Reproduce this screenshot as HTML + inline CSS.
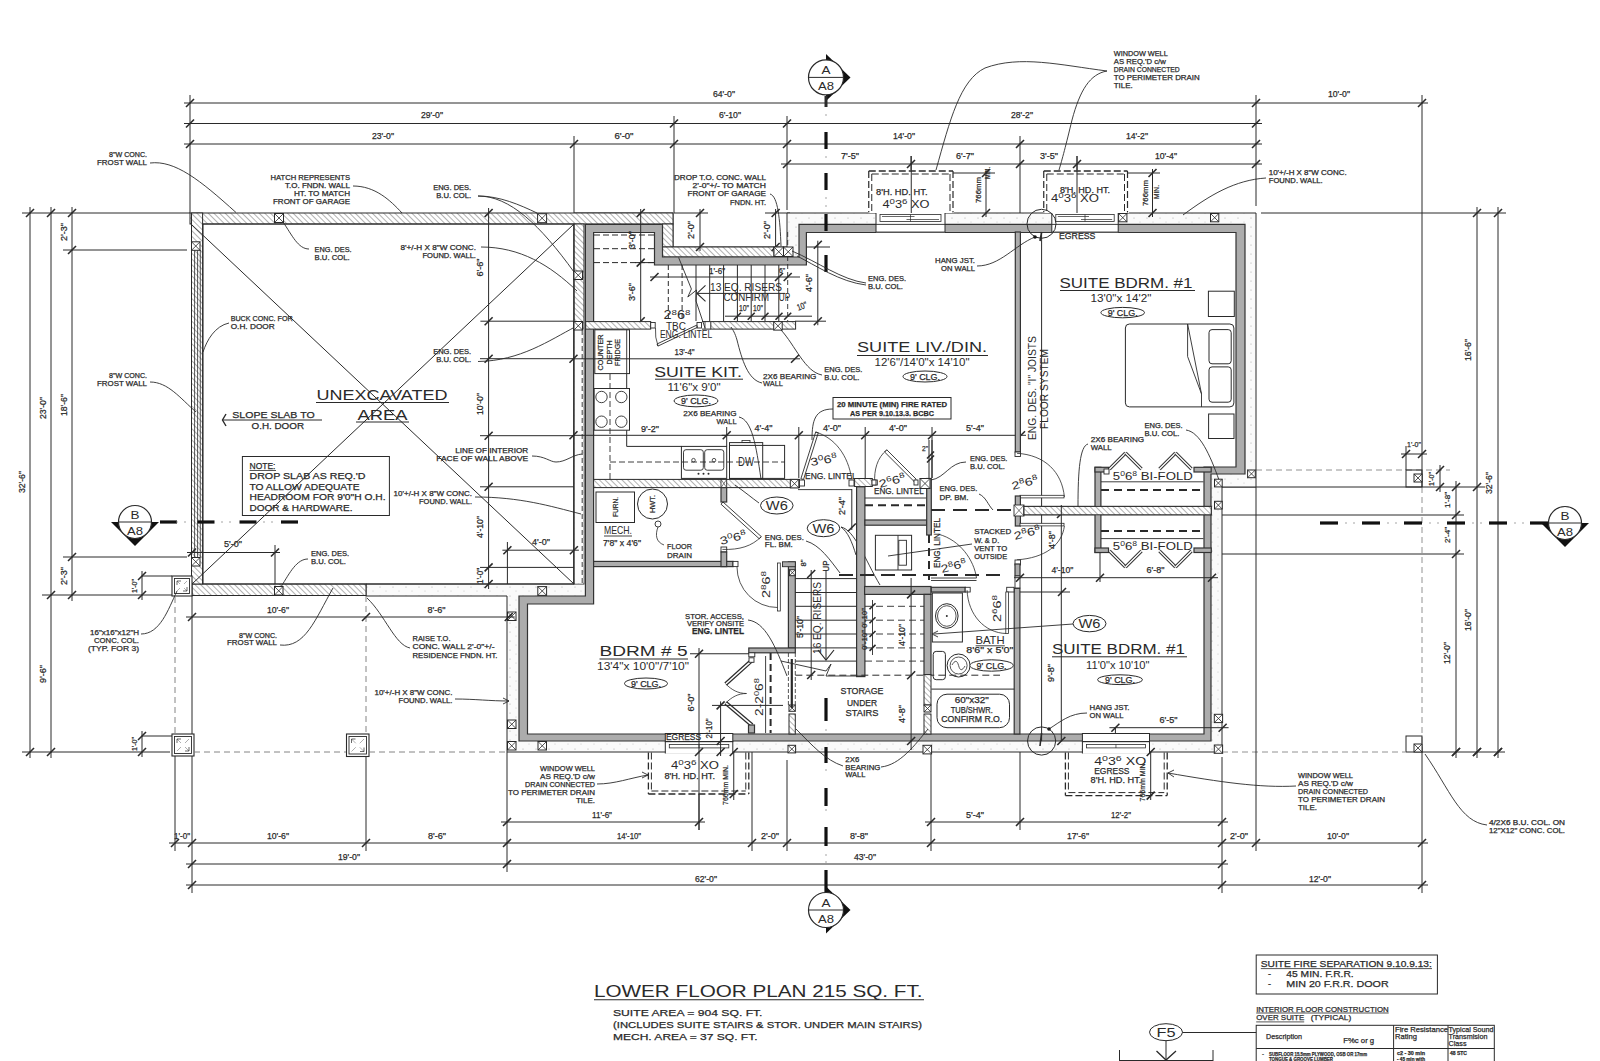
<!DOCTYPE html>
<html><head><meta charset="utf-8"><style>
html,body{margin:0;padding:0;background:#fff;}
svg{display:block;font-family:"Liberation Sans",sans-serif;}
</style></head><body>
<svg width="1600" height="1061" viewBox="0 0 1600 1061">
<defs>
<pattern id="h1" patternUnits="userSpaceOnUse" width="4" height="4" patternTransform="rotate(-45)"><rect width="4" height="4" fill="#fff"/><line x1="0" y1="0" x2="0" y2="4" stroke="#666" stroke-width="1"/></pattern>
<pattern id="cc" patternUnits="userSpaceOnUse" width="13" height="9"><rect width="13" height="9" fill="#fafafa"/><circle cx="3" cy="2" r="0.6" fill="#aaa"/><circle cx="9" cy="6" r="0.5" fill="#bbb"/></pattern>
<pattern id="xh" patternUnits="userSpaceOnUse" width="3" height="3"><rect width="3" height="3" fill="#fff"/><line x1="1.5" y1="0" x2="1.5" y2="3" stroke="#555" stroke-width="0.7"/></pattern>
</defs>
<rect width="1600" height="1061" fill="#fff"/>
<line x1="184" y1="103" x2="1428" y2="103" stroke="#2a2a2a" stroke-width="1.0" stroke-linecap="butt"/>
<line x1="186" y1="107" x2="194" y2="99" stroke="#2a2a2a" stroke-width="1.6" stroke-linecap="butt"/>
<line x1="1252" y1="107" x2="1260" y2="99" stroke="#2a2a2a" stroke-width="1.6" stroke-linecap="butt"/>
<line x1="1418" y1="107" x2="1426" y2="99" stroke="#2a2a2a" stroke-width="1.6" stroke-linecap="butt"/>
<text x="724" y="97" font-size="9" text-anchor="middle" textLength="22" lengthAdjust="spacingAndGlyphs" fill="#2a2a2a" stroke="#2a2a2a" stroke-width="0.25">64'-0"</text>
<text x="1339" y="97" font-size="9" text-anchor="middle" textLength="22" lengthAdjust="spacingAndGlyphs" fill="#2a2a2a" stroke="#2a2a2a" stroke-width="0.25">10'-0"</text>
<line x1="184" y1="123.5" x2="1262" y2="123.5" stroke="#2a2a2a" stroke-width="1.0" stroke-linecap="butt"/>
<line x1="186" y1="127.5" x2="194" y2="119.5" stroke="#2a2a2a" stroke-width="1.6" stroke-linecap="butt"/>
<line x1="670" y1="127.5" x2="678" y2="119.5" stroke="#2a2a2a" stroke-width="1.6" stroke-linecap="butt"/>
<line x1="783" y1="127.5" x2="791" y2="119.5" stroke="#2a2a2a" stroke-width="1.6" stroke-linecap="butt"/>
<line x1="1252" y1="127.5" x2="1260" y2="119.5" stroke="#2a2a2a" stroke-width="1.6" stroke-linecap="butt"/>
<text x="432" y="118" font-size="9" text-anchor="middle" textLength="22" lengthAdjust="spacingAndGlyphs" fill="#2a2a2a" stroke="#2a2a2a" stroke-width="0.25">29'-0"</text>
<text x="730" y="118" font-size="9" text-anchor="middle" textLength="22" lengthAdjust="spacingAndGlyphs" fill="#2a2a2a" stroke="#2a2a2a" stroke-width="0.25">6'-10"</text>
<text x="1022" y="118" font-size="9" text-anchor="middle" textLength="22" lengthAdjust="spacingAndGlyphs" fill="#2a2a2a" stroke="#2a2a2a" stroke-width="0.25">28'-2"</text>
<line x1="184" y1="144" x2="1262" y2="144" stroke="#2a2a2a" stroke-width="1.0" stroke-linecap="butt"/>
<line x1="186" y1="148" x2="194" y2="140" stroke="#2a2a2a" stroke-width="1.6" stroke-linecap="butt"/>
<line x1="570" y1="148" x2="578" y2="140" stroke="#2a2a2a" stroke-width="1.6" stroke-linecap="butt"/>
<line x1="670" y1="148" x2="678" y2="140" stroke="#2a2a2a" stroke-width="1.6" stroke-linecap="butt"/>
<line x1="783" y1="148" x2="791" y2="140" stroke="#2a2a2a" stroke-width="1.6" stroke-linecap="butt"/>
<line x1="1016" y1="148" x2="1024" y2="140" stroke="#2a2a2a" stroke-width="1.6" stroke-linecap="butt"/>
<line x1="1252" y1="148" x2="1260" y2="140" stroke="#2a2a2a" stroke-width="1.6" stroke-linecap="butt"/>
<text x="383" y="139" font-size="9" text-anchor="middle" textLength="22" lengthAdjust="spacingAndGlyphs" fill="#2a2a2a" stroke="#2a2a2a" stroke-width="0.25">23'-0"</text>
<text x="624" y="139" font-size="9" text-anchor="middle" textLength="19" lengthAdjust="spacingAndGlyphs" fill="#2a2a2a" stroke="#2a2a2a" stroke-width="0.25">6'-0"</text>
<text x="904" y="139" font-size="9" text-anchor="middle" textLength="22" lengthAdjust="spacingAndGlyphs" fill="#2a2a2a" stroke="#2a2a2a" stroke-width="0.25">14'-0"</text>
<text x="1137" y="139" font-size="9" text-anchor="middle" textLength="22" lengthAdjust="spacingAndGlyphs" fill="#2a2a2a" stroke="#2a2a2a" stroke-width="0.25">14'-2"</text>
<line x1="781" y1="164" x2="1262" y2="164" stroke="#2a2a2a" stroke-width="1.0" stroke-linecap="butt"/>
<line x1="783" y1="168" x2="791" y2="160" stroke="#2a2a2a" stroke-width="1.6" stroke-linecap="butt"/>
<line x1="907" y1="168" x2="915" y2="160" stroke="#2a2a2a" stroke-width="1.6" stroke-linecap="butt"/>
<line x1="1016" y1="168" x2="1024" y2="160" stroke="#2a2a2a" stroke-width="1.6" stroke-linecap="butt"/>
<line x1="1073" y1="168" x2="1081" y2="160" stroke="#2a2a2a" stroke-width="1.6" stroke-linecap="butt"/>
<line x1="1252" y1="168" x2="1260" y2="160" stroke="#2a2a2a" stroke-width="1.6" stroke-linecap="butt"/>
<text x="850" y="159" font-size="9" text-anchor="middle" textLength="18" lengthAdjust="spacingAndGlyphs" fill="#2a2a2a" stroke="#2a2a2a" stroke-width="0.25">7'-5"</text>
<text x="965" y="159" font-size="9" text-anchor="middle" textLength="18" lengthAdjust="spacingAndGlyphs" fill="#2a2a2a" stroke="#2a2a2a" stroke-width="0.25">6'-7"</text>
<text x="1049" y="159" font-size="9" text-anchor="middle" textLength="18" lengthAdjust="spacingAndGlyphs" fill="#2a2a2a" stroke="#2a2a2a" stroke-width="0.25">3'-5"</text>
<text x="1166" y="159" font-size="9" text-anchor="middle" textLength="22" lengthAdjust="spacingAndGlyphs" fill="#2a2a2a" stroke="#2a2a2a" stroke-width="0.25">10'-4"</text>
<line x1="190" y1="95" x2="190" y2="213" stroke="#2a2a2a" stroke-width="1.0" stroke-linecap="butt"/>
<line x1="574" y1="136" x2="574" y2="213" stroke="#2a2a2a" stroke-width="1.0" stroke-linecap="butt"/>
<line x1="674" y1="116" x2="674" y2="213" stroke="#2a2a2a" stroke-width="1.0" stroke-linecap="butt"/>
<line x1="787" y1="116" x2="787" y2="210" stroke="#2a2a2a" stroke-width="1.0" stroke-linecap="butt"/>
<line x1="1020" y1="136" x2="1020" y2="225" stroke="#2a2a2a" stroke-width="1.0" stroke-linecap="butt"/>
<line x1="911" y1="156" x2="911" y2="215" stroke="#2a2a2a" stroke-width="1.0" stroke-linecap="butt"/>
<line x1="1077" y1="156" x2="1077" y2="215" stroke="#2a2a2a" stroke-width="1.0" stroke-linecap="butt"/>
<line x1="1256" y1="95" x2="1256" y2="206" stroke="#2a2a2a" stroke-width="1.0" stroke-linecap="butt"/>
<line x1="1422" y1="95" x2="1422" y2="487" stroke="#2a2a2a" stroke-width="1.0" stroke-linecap="butt"/>
<line x1="22" y1="213" x2="190" y2="213" stroke="#2a2a2a" stroke-width="1.0" stroke-linecap="butt"/>
<line x1="30" y1="207" x2="30" y2="758" stroke="#2a2a2a" stroke-width="1.0" stroke-linecap="butt"/>
<line x1="26" y1="217" x2="34" y2="209" stroke="#2a2a2a" stroke-width="1.6" stroke-linecap="butt"/>
<line x1="26" y1="756" x2="34" y2="748" stroke="#2a2a2a" stroke-width="1.6" stroke-linecap="butt"/>
<line x1="51" y1="207" x2="51" y2="758" stroke="#2a2a2a" stroke-width="1.0" stroke-linecap="butt"/>
<line x1="47" y1="217" x2="55" y2="209" stroke="#2a2a2a" stroke-width="1.6" stroke-linecap="butt"/>
<line x1="47" y1="599" x2="55" y2="591" stroke="#2a2a2a" stroke-width="1.6" stroke-linecap="butt"/>
<line x1="47" y1="756" x2="55" y2="748" stroke="#2a2a2a" stroke-width="1.6" stroke-linecap="butt"/>
<line x1="72" y1="207" x2="72" y2="601" stroke="#2a2a2a" stroke-width="1.0" stroke-linecap="butt"/>
<line x1="68" y1="217" x2="76" y2="209" stroke="#2a2a2a" stroke-width="1.6" stroke-linecap="butt"/>
<line x1="68" y1="254" x2="76" y2="246" stroke="#2a2a2a" stroke-width="1.6" stroke-linecap="butt"/>
<line x1="68" y1="561" x2="76" y2="553" stroke="#2a2a2a" stroke-width="1.6" stroke-linecap="butt"/>
<line x1="68" y1="599" x2="76" y2="591" stroke="#2a2a2a" stroke-width="1.6" stroke-linecap="butt"/>
<line x1="63" y1="250" x2="187" y2="250" stroke="#2a2a2a" stroke-width="1.0" stroke-linecap="butt"/>
<line x1="63" y1="557" x2="187" y2="557" stroke="#2a2a2a" stroke-width="1.0" stroke-linecap="butt"/>
<line x1="42" y1="595" x2="172" y2="595" stroke="#2a2a2a" stroke-width="1.0" stroke-linecap="butt"/>
<line x1="22" y1="752" x2="170" y2="752" stroke="#2a2a2a" stroke-width="1.0" stroke-linecap="butt"/>
<text x="25" y="482" font-size="9" text-anchor="middle" textLength="22" lengthAdjust="spacingAndGlyphs" transform="rotate(-90 25 482)" fill="#2a2a2a" stroke="#2a2a2a" stroke-width="0.25">32'-6"</text>
<text x="46" y="408" font-size="9" text-anchor="middle" textLength="22" lengthAdjust="spacingAndGlyphs" transform="rotate(-90 46 408)" fill="#2a2a2a" stroke="#2a2a2a" stroke-width="0.25">23'-0"</text>
<text x="46" y="674" font-size="9" text-anchor="middle" textLength="18" lengthAdjust="spacingAndGlyphs" transform="rotate(-90 46 674)" fill="#2a2a2a" stroke="#2a2a2a" stroke-width="0.25">9'-6"</text>
<text x="67" y="232" font-size="9" text-anchor="middle" textLength="18" lengthAdjust="spacingAndGlyphs" transform="rotate(-90 67 232)" fill="#2a2a2a" stroke="#2a2a2a" stroke-width="0.25">2'-3"</text>
<text x="67" y="405" font-size="9" text-anchor="middle" textLength="22" lengthAdjust="spacingAndGlyphs" transform="rotate(-90 67 405)" fill="#2a2a2a" stroke="#2a2a2a" stroke-width="0.25">18'-6"</text>
<text x="67" y="576" font-size="9" text-anchor="middle" textLength="18" lengthAdjust="spacingAndGlyphs" transform="rotate(-90 67 576)" fill="#2a2a2a" stroke="#2a2a2a" stroke-width="0.25">2'-3"</text>
<line x1="142" y1="571" x2="142" y2="600" stroke="#2a2a2a" stroke-width="1.0" stroke-linecap="butt"/>
<line x1="138" y1="580" x2="146" y2="572" stroke="#2a2a2a" stroke-width="1.6" stroke-linecap="butt"/>
<line x1="138" y1="599" x2="146" y2="591" stroke="#2a2a2a" stroke-width="1.6" stroke-linecap="butt"/>
<line x1="142" y1="576" x2="172" y2="576" stroke="#2a2a2a" stroke-width="1.0" stroke-linecap="butt"/>
<line x1="142" y1="731" x2="142" y2="757" stroke="#2a2a2a" stroke-width="1.0" stroke-linecap="butt"/>
<line x1="138" y1="740" x2="146" y2="732" stroke="#2a2a2a" stroke-width="1.6" stroke-linecap="butt"/>
<line x1="138" y1="756" x2="146" y2="748" stroke="#2a2a2a" stroke-width="1.6" stroke-linecap="butt"/>
<line x1="142" y1="736" x2="172" y2="736" stroke="#2a2a2a" stroke-width="1.0" stroke-linecap="butt"/>
<text x="137" y="586" font-size="8" text-anchor="middle" textLength="14" lengthAdjust="spacingAndGlyphs" transform="rotate(-90 137 586)" fill="#2a2a2a" stroke="#2a2a2a" stroke-width="0.25">1'-0"</text>
<text x="137" y="744" font-size="8" text-anchor="middle" textLength="14" lengthAdjust="spacingAndGlyphs" transform="rotate(-90 137 744)" fill="#2a2a2a" stroke="#2a2a2a" stroke-width="0.25">1'-0"</text>
<line x1="1261" y1="213" x2="1506" y2="213" stroke="#2a2a2a" stroke-width="1.0" stroke-linecap="butt"/>
<line x1="1477" y1="207" x2="1477" y2="758" stroke="#2a2a2a" stroke-width="1.0" stroke-linecap="butt"/>
<line x1="1473" y1="217" x2="1481" y2="209" stroke="#2a2a2a" stroke-width="1.6" stroke-linecap="butt"/>
<line x1="1473" y1="491" x2="1481" y2="483" stroke="#2a2a2a" stroke-width="1.6" stroke-linecap="butt"/>
<line x1="1473" y1="756" x2="1481" y2="748" stroke="#2a2a2a" stroke-width="1.6" stroke-linecap="butt"/>
<line x1="1498" y1="207" x2="1498" y2="758" stroke="#2a2a2a" stroke-width="1.0" stroke-linecap="butt"/>
<line x1="1494" y1="217" x2="1502" y2="209" stroke="#2a2a2a" stroke-width="1.6" stroke-linecap="butt"/>
<line x1="1494" y1="756" x2="1502" y2="748" stroke="#2a2a2a" stroke-width="1.6" stroke-linecap="butt"/>
<line x1="1456" y1="481" x2="1456" y2="758" stroke="#2a2a2a" stroke-width="1.0" stroke-linecap="butt"/>
<line x1="1452" y1="491" x2="1460" y2="483" stroke="#2a2a2a" stroke-width="1.6" stroke-linecap="butt"/>
<line x1="1452" y1="519" x2="1460" y2="511" stroke="#2a2a2a" stroke-width="1.6" stroke-linecap="butt"/>
<line x1="1452" y1="558" x2="1460" y2="550" stroke="#2a2a2a" stroke-width="1.6" stroke-linecap="butt"/>
<line x1="1452" y1="756" x2="1460" y2="748" stroke="#2a2a2a" stroke-width="1.6" stroke-linecap="butt"/>
<text x="1471" y="350" font-size="9" text-anchor="middle" textLength="22" lengthAdjust="spacingAndGlyphs" transform="rotate(-90 1471 350)" fill="#2a2a2a" stroke="#2a2a2a" stroke-width="0.25">16'-6"</text>
<text x="1471" y="620" font-size="9" text-anchor="middle" textLength="22" lengthAdjust="spacingAndGlyphs" transform="rotate(-90 1471 620)" fill="#2a2a2a" stroke="#2a2a2a" stroke-width="0.25">16'-0"</text>
<text x="1492" y="483" font-size="9" text-anchor="middle" textLength="22" lengthAdjust="spacingAndGlyphs" transform="rotate(-90 1492 483)" fill="#2a2a2a" stroke="#2a2a2a" stroke-width="0.25">32'-6"</text>
<text x="1450" y="500" font-size="8" text-anchor="middle" textLength="16" lengthAdjust="spacingAndGlyphs" transform="rotate(-90 1450 500)" fill="#2a2a2a" stroke="#2a2a2a" stroke-width="0.25">1'-8"</text>
<text x="1450" y="535" font-size="8" text-anchor="middle" textLength="16" lengthAdjust="spacingAndGlyphs" transform="rotate(-90 1450 535)" fill="#2a2a2a" stroke="#2a2a2a" stroke-width="0.25">2'-4"</text>
<text x="1450" y="653" font-size="9" text-anchor="middle" textLength="22" lengthAdjust="spacingAndGlyphs" transform="rotate(-90 1450 653)" fill="#2a2a2a" stroke="#2a2a2a" stroke-width="0.25">12'-0"</text>
<line x1="1222" y1="487" x2="1485" y2="487" stroke="#2a2a2a" stroke-width="1.0" stroke-linecap="butt"/>
<line x1="1217" y1="515" x2="1464" y2="515" stroke="#2a2a2a" stroke-width="1.0" stroke-linecap="butt"/>
<line x1="1208" y1="554" x2="1464" y2="554" stroke="#2a2a2a" stroke-width="1.0" stroke-linecap="butt"/>
<line x1="1256" y1="470" x2="1450" y2="470" stroke="#777" stroke-width="0.8" stroke-dasharray="6,4" stroke-linecap="butt"/>
<line x1="1422" y1="487" x2="1422" y2="752" stroke="#777" stroke-width="0.8" stroke-dasharray="6,4" stroke-linecap="butt"/>
<line x1="1401" y1="454" x2="1427" y2="454" stroke="#2a2a2a" stroke-width="1.0" stroke-linecap="butt"/>
<line x1="1402" y1="458" x2="1410" y2="450" stroke="#2a2a2a" stroke-width="1.6" stroke-linecap="butt"/>
<line x1="1418" y1="458" x2="1426" y2="450" stroke="#2a2a2a" stroke-width="1.6" stroke-linecap="butt"/>
<line x1="1406" y1="446" x2="1406" y2="470" stroke="#2a2a2a" stroke-width="1.0" stroke-linecap="butt"/>
<text x="1414" y="447" font-size="8" text-anchor="middle" textLength="14" lengthAdjust="spacingAndGlyphs" fill="#2a2a2a" stroke="#2a2a2a" stroke-width="0.25">1'-0"</text>
<line x1="1440" y1="465" x2="1440" y2="492" stroke="#2a2a2a" stroke-width="1.0" stroke-linecap="butt"/>
<line x1="1436" y1="474" x2="1444" y2="466" stroke="#2a2a2a" stroke-width="1.6" stroke-linecap="butt"/>
<line x1="1436" y1="491" x2="1444" y2="483" stroke="#2a2a2a" stroke-width="1.6" stroke-linecap="butt"/>
<text x="1434" y="479" font-size="8" text-anchor="middle" textLength="14" lengthAdjust="spacingAndGlyphs" transform="rotate(-90 1434 479)" fill="#2a2a2a" stroke="#2a2a2a" stroke-width="0.25">1'-0"</text>
<rect x="1406" y="470" width="16" height="17" fill="none" stroke="#2a2a2a" stroke-width="1"/>
<rect x="1414" y="474" width="8" height="8" fill="#fff" stroke="#2a2a2a" stroke-width="1.0"/>
<line x1="1414" y1="474" x2="1422" y2="482" stroke="#2a2a2a" stroke-width="0.8" stroke-linecap="butt"/>
<line x1="1422" y1="474" x2="1414" y2="482" stroke="#2a2a2a" stroke-width="0.8" stroke-linecap="butt"/>
<rect x="1406" y="736" width="16" height="16" fill="none" stroke="#2a2a2a" stroke-width="1"/>
<rect x="1414" y="744" width="8" height="8" fill="#fff" stroke="#2a2a2a" stroke-width="1.0"/>
<line x1="1414" y1="744" x2="1422" y2="752" stroke="#2a2a2a" stroke-width="0.8" stroke-linecap="butt"/>
<line x1="1422" y1="744" x2="1414" y2="752" stroke="#2a2a2a" stroke-width="0.8" stroke-linecap="butt"/>
<line x1="1422" y1="752" x2="1505" y2="752" stroke="#2a2a2a" stroke-width="1.0" stroke-linecap="butt"/>
<line x1="1452" y1="756" x2="1460" y2="748" stroke="#2a2a2a" stroke-width="1.6" stroke-linecap="butt"/>
<line x1="1473" y1="756" x2="1481" y2="748" stroke="#2a2a2a" stroke-width="1.6" stroke-linecap="butt"/>
<line x1="1494" y1="756" x2="1502" y2="748" stroke="#2a2a2a" stroke-width="1.6" stroke-linecap="butt"/>
<line x1="1222" y1="752" x2="1405" y2="752" stroke="#777" stroke-width="0.8" stroke-dasharray="6,4" stroke-linecap="butt"/>
<line x1="501" y1="822" x2="705" y2="822" stroke="#2a2a2a" stroke-width="1.0" stroke-linecap="butt"/>
<line x1="503" y1="826" x2="511" y2="818" stroke="#2a2a2a" stroke-width="1.6" stroke-linecap="butt"/>
<line x1="695" y1="826" x2="703" y2="818" stroke="#2a2a2a" stroke-width="1.6" stroke-linecap="butt"/>
<line x1="925" y1="822" x2="1228" y2="822" stroke="#2a2a2a" stroke-width="1.0" stroke-linecap="butt"/>
<line x1="927" y1="826" x2="935" y2="818" stroke="#2a2a2a" stroke-width="1.6" stroke-linecap="butt"/>
<line x1="1016" y1="826" x2="1024" y2="818" stroke="#2a2a2a" stroke-width="1.6" stroke-linecap="butt"/>
<line x1="1218" y1="826" x2="1226" y2="818" stroke="#2a2a2a" stroke-width="1.6" stroke-linecap="butt"/>
<text x="602" y="817.5" font-size="9" text-anchor="middle" textLength="20" lengthAdjust="spacingAndGlyphs" fill="#2a2a2a" stroke="#2a2a2a" stroke-width="0.25">11'-6"</text>
<text x="975" y="817.5" font-size="9" text-anchor="middle" textLength="18" lengthAdjust="spacingAndGlyphs" fill="#2a2a2a" stroke="#2a2a2a" stroke-width="0.25">5'-4"</text>
<text x="1121" y="817.5" font-size="9" text-anchor="middle" textLength="20" lengthAdjust="spacingAndGlyphs" fill="#2a2a2a" stroke="#2a2a2a" stroke-width="0.25">12'-2"</text>
<line x1="169" y1="843" x2="1428" y2="843" stroke="#2a2a2a" stroke-width="1.0" stroke-linecap="butt"/>
<line x1="171" y1="847" x2="179" y2="839" stroke="#2a2a2a" stroke-width="1.6" stroke-linecap="butt"/>
<line x1="188" y1="847" x2="196" y2="839" stroke="#2a2a2a" stroke-width="1.6" stroke-linecap="butt"/>
<line x1="362" y1="847" x2="370" y2="839" stroke="#2a2a2a" stroke-width="1.6" stroke-linecap="butt"/>
<line x1="503" y1="847" x2="511" y2="839" stroke="#2a2a2a" stroke-width="1.6" stroke-linecap="butt"/>
<line x1="748" y1="847" x2="756" y2="839" stroke="#2a2a2a" stroke-width="1.6" stroke-linecap="butt"/>
<line x1="783" y1="847" x2="791" y2="839" stroke="#2a2a2a" stroke-width="1.6" stroke-linecap="butt"/>
<line x1="927" y1="847" x2="935" y2="839" stroke="#2a2a2a" stroke-width="1.6" stroke-linecap="butt"/>
<line x1="1218" y1="847" x2="1226" y2="839" stroke="#2a2a2a" stroke-width="1.6" stroke-linecap="butt"/>
<line x1="1252" y1="847" x2="1260" y2="839" stroke="#2a2a2a" stroke-width="1.6" stroke-linecap="butt"/>
<line x1="1418" y1="847" x2="1426" y2="839" stroke="#2a2a2a" stroke-width="1.6" stroke-linecap="butt"/>
<text x="182" y="838.5" font-size="9" text-anchor="middle" textLength="16" lengthAdjust="spacingAndGlyphs" fill="#2a2a2a" stroke="#2a2a2a" stroke-width="0.25">1'-0"</text>
<text x="278" y="838.5" font-size="9" text-anchor="middle" textLength="22" lengthAdjust="spacingAndGlyphs" fill="#2a2a2a" stroke="#2a2a2a" stroke-width="0.25">10'-6"</text>
<text x="437" y="838.5" font-size="9" text-anchor="middle" textLength="18" lengthAdjust="spacingAndGlyphs" fill="#2a2a2a" stroke="#2a2a2a" stroke-width="0.25">8'-6"</text>
<text x="629" y="838.5" font-size="9" text-anchor="middle" textLength="24" lengthAdjust="spacingAndGlyphs" fill="#2a2a2a" stroke="#2a2a2a" stroke-width="0.25">14'-10"</text>
<text x="770" y="838.5" font-size="9" text-anchor="middle" textLength="18" lengthAdjust="spacingAndGlyphs" fill="#2a2a2a" stroke="#2a2a2a" stroke-width="0.25">2'-0"</text>
<text x="859" y="838.5" font-size="9" text-anchor="middle" textLength="18" lengthAdjust="spacingAndGlyphs" fill="#2a2a2a" stroke="#2a2a2a" stroke-width="0.25">8'-8"</text>
<text x="1078" y="838.5" font-size="9" text-anchor="middle" textLength="22" lengthAdjust="spacingAndGlyphs" fill="#2a2a2a" stroke="#2a2a2a" stroke-width="0.25">17'-6"</text>
<text x="1239" y="838.5" font-size="9" text-anchor="middle" textLength="18" lengthAdjust="spacingAndGlyphs" fill="#2a2a2a" stroke="#2a2a2a" stroke-width="0.25">2'-0"</text>
<text x="1338" y="838.5" font-size="9" text-anchor="middle" textLength="22" lengthAdjust="spacingAndGlyphs" fill="#2a2a2a" stroke="#2a2a2a" stroke-width="0.25">10'-0"</text>
<line x1="186" y1="864" x2="1228" y2="864" stroke="#2a2a2a" stroke-width="1.0" stroke-linecap="butt"/>
<line x1="188" y1="868" x2="196" y2="860" stroke="#2a2a2a" stroke-width="1.6" stroke-linecap="butt"/>
<line x1="503" y1="868" x2="511" y2="860" stroke="#2a2a2a" stroke-width="1.6" stroke-linecap="butt"/>
<line x1="1218" y1="868" x2="1226" y2="860" stroke="#2a2a2a" stroke-width="1.6" stroke-linecap="butt"/>
<text x="349" y="859.8" font-size="9" text-anchor="middle" textLength="22" lengthAdjust="spacingAndGlyphs" fill="#2a2a2a" stroke="#2a2a2a" stroke-width="0.25">19'-0"</text>
<text x="865" y="859.8" font-size="9" text-anchor="middle" textLength="22" lengthAdjust="spacingAndGlyphs" fill="#2a2a2a" stroke="#2a2a2a" stroke-width="0.25">43'-0"</text>
<line x1="186" y1="885" x2="1428" y2="885" stroke="#2a2a2a" stroke-width="1.0" stroke-linecap="butt"/>
<line x1="188" y1="889" x2="196" y2="881" stroke="#2a2a2a" stroke-width="1.6" stroke-linecap="butt"/>
<line x1="1218" y1="889" x2="1226" y2="881" stroke="#2a2a2a" stroke-width="1.6" stroke-linecap="butt"/>
<line x1="1418" y1="889" x2="1426" y2="881" stroke="#2a2a2a" stroke-width="1.6" stroke-linecap="butt"/>
<text x="706" y="881.5" font-size="9" text-anchor="middle" textLength="22" lengthAdjust="spacingAndGlyphs" fill="#2a2a2a" stroke="#2a2a2a" stroke-width="0.25">62'-0"</text>
<text x="1320" y="881.5" font-size="9" text-anchor="middle" textLength="22" lengthAdjust="spacingAndGlyphs" fill="#2a2a2a" stroke="#2a2a2a" stroke-width="0.25">12'-0"</text>
<line x1="175" y1="752" x2="175" y2="851" stroke="#2a2a2a" stroke-width="1.0" stroke-linecap="butt"/>
<line x1="192" y1="595" x2="192" y2="893" stroke="#2a2a2a" stroke-width="1.0" stroke-linecap="butt"/>
<line x1="366" y1="756" x2="366" y2="851" stroke="#2a2a2a" stroke-width="1.0" stroke-linecap="butt"/>
<line x1="507" y1="752" x2="507" y2="872" stroke="#2a2a2a" stroke-width="1.0" stroke-linecap="butt"/>
<line x1="699" y1="648" x2="699" y2="830" stroke="#2a2a2a" stroke-width="1.0" stroke-linecap="butt"/>
<line x1="752" y1="741" x2="752" y2="851" stroke="#2a2a2a" stroke-width="1.0" stroke-linecap="butt"/>
<line x1="787" y1="760" x2="787" y2="851" stroke="#2a2a2a" stroke-width="1.0" stroke-linecap="butt"/>
<line x1="931" y1="741" x2="931" y2="851" stroke="#2a2a2a" stroke-width="1.0" stroke-linecap="butt"/>
<line x1="1020" y1="741" x2="1020" y2="830" stroke="#2a2a2a" stroke-width="1.0" stroke-linecap="butt"/>
<line x1="1222" y1="757" x2="1222" y2="893" stroke="#2a2a2a" stroke-width="1.0" stroke-linecap="butt"/>
<line x1="1256" y1="487" x2="1256" y2="851" stroke="#2a2a2a" stroke-width="1.0" stroke-linecap="butt"/>
<line x1="1422" y1="752" x2="1422" y2="893" stroke="#2a2a2a" stroke-width="1.0" stroke-linecap="butt"/>
<line x1="674" y1="213" x2="708" y2="213" stroke="#2a2a2a" stroke-width="1.0" stroke-linecap="butt"/>
<line x1="765" y1="213" x2="790" y2="213" stroke="#2a2a2a" stroke-width="1.0" stroke-linecap="butt"/>
<polygon points="787,213 1256,213 1256,487 1222,487 1222,752 507,752 507,596 366,596 366,584 574,584 574,213 673,213 673,247 787,247" fill="url(#cc)" stroke="#2a2a2a" stroke-width="1.0"/>
<rect x="190" y="213" width="483" height="11" fill="url(#h1)" stroke="#2a2a2a" stroke-width="1"/>
<rect x="662.5" y="224" width="10.5" height="23" fill="url(#h1)" stroke="#2a2a2a" stroke-width="1"/>
<rect x="662.5" y="247" width="111.5" height="10" fill="url(#h1)" stroke="#2a2a2a" stroke-width="1"/>
<rect x="574" y="224" width="10" height="360" fill="url(#h1)" stroke="#2a2a2a" stroke-width="1"/>
<rect x="192" y="584" width="174" height="11.5" fill="url(#h1)" stroke="#2a2a2a" stroke-width="1"/>
<rect x="191.5" y="213" width="11.099999999999994" height="371" fill="url(#h1)" stroke="#2a2a2a" stroke-width="1"/>
<line x1="194.6" y1="250" x2="194.6" y2="557.5" stroke="#2a2a2a" stroke-width="0.8" stroke-linecap="butt"/>
<line x1="197.6" y1="250" x2="197.6" y2="557.5" stroke="#2a2a2a" stroke-width="0.8" stroke-linecap="butt"/>
<line x1="200.3" y1="250" x2="200.3" y2="557.5" stroke="#2a2a2a" stroke-width="0.8" stroke-linecap="butt"/>
<rect x="191.5" y="557.5" width="8.5" height="8.5" fill="#fff" stroke="#2a2a2a" stroke-width="1.0"/>
<line x1="191.5" y1="557.5" x2="200.0" y2="566.0" stroke="#2a2a2a" stroke-width="0.8" stroke-linecap="butt"/>
<line x1="200.0" y1="557.5" x2="191.5" y2="566.0" stroke="#2a2a2a" stroke-width="0.8" stroke-linecap="butt"/>
<polygon points="585.4,224.4 662.5,224.4 662.5,257 799,257 799,224.4 1245,224.4 1245,474 1211,474 1211,741 519,741 519,596 585.4,596" fill="#acacac" stroke="#333" stroke-width="1.2"/>
<polygon points="593.6,232.5 654.5,232.5 654.5,265 806.4,265 806.4,232.5 1236,232.5 1236,467 1204,467 1204,734 527.5,734 527.5,604 593.6,604" fill="#fff" stroke="#333" stroke-width="1.2"/>
<rect x="203" y="224" width="371" height="360" fill="none" stroke="#2a2a2a" stroke-width="1"/>
<line x1="192" y1="225" x2="574" y2="584" stroke="#2a2a2a" stroke-width="1.0" stroke-linecap="butt"/>
<line x1="574" y1="224" x2="192" y2="584" stroke="#2a2a2a" stroke-width="1.0" stroke-linecap="butt"/>
<rect x="274.5" y="213.5" width="9" height="9" fill="#fff" stroke="#2a2a2a" stroke-width="1.0"/>
<line x1="274.5" y1="213.5" x2="283.5" y2="222.5" stroke="#2a2a2a" stroke-width="0.8" stroke-linecap="butt"/>
<line x1="283.5" y1="213.5" x2="274.5" y2="222.5" stroke="#2a2a2a" stroke-width="0.8" stroke-linecap="butt"/>
<rect x="191.5" y="241.8" width="8.5" height="8.5" fill="#fff" stroke="#2a2a2a" stroke-width="1.0"/>
<line x1="191.5" y1="241.8" x2="200.0" y2="250.3" stroke="#2a2a2a" stroke-width="0.8" stroke-linecap="butt"/>
<line x1="200.0" y1="241.8" x2="191.5" y2="250.3" stroke="#2a2a2a" stroke-width="0.8" stroke-linecap="butt"/>
<rect x="537.6" y="213.7" width="9" height="9" fill="#fff" stroke="#2a2a2a" stroke-width="1.0"/>
<line x1="537.6" y1="213.7" x2="546.6" y2="222.7" stroke="#2a2a2a" stroke-width="0.8" stroke-linecap="butt"/>
<line x1="546.6" y1="213.7" x2="537.6" y2="222.7" stroke="#2a2a2a" stroke-width="0.8" stroke-linecap="butt"/>
<rect x="574" y="271" width="8.5" height="8.5" fill="#fff" stroke="#2a2a2a" stroke-width="1.0"/>
<line x1="574" y1="271" x2="582.5" y2="279.5" stroke="#2a2a2a" stroke-width="0.8" stroke-linecap="butt"/>
<line x1="582.5" y1="271" x2="574" y2="279.5" stroke="#2a2a2a" stroke-width="0.8" stroke-linecap="butt"/>
<rect x="574" y="321.5" width="8.5" height="8.5" fill="#fff" stroke="#2a2a2a" stroke-width="1.0"/>
<line x1="574" y1="321.5" x2="582.5" y2="330.0" stroke="#2a2a2a" stroke-width="0.8" stroke-linecap="butt"/>
<line x1="582.5" y1="321.5" x2="574" y2="330.0" stroke="#2a2a2a" stroke-width="0.8" stroke-linecap="butt"/>
<rect x="537.8" y="586.6" width="8.8" height="8.8" fill="#fff" stroke="#2a2a2a" stroke-width="1.0"/>
<line x1="537.8" y1="586.6" x2="546.5999999999999" y2="595.4" stroke="#2a2a2a" stroke-width="0.8" stroke-linecap="butt"/>
<line x1="546.5999999999999" y1="586.6" x2="537.8" y2="595.4" stroke="#2a2a2a" stroke-width="0.8" stroke-linecap="butt"/>
<rect x="574.5" y="329.5" width="9" height="254" fill="#fbfbfb"/>
<line x1="574" y1="329" x2="574" y2="584" stroke="#2a2a2a" stroke-width="1.0" stroke-linecap="butt"/>
<line x1="582.2" y1="330" x2="582.2" y2="584" stroke="#2a2a2a" stroke-width="0.9" stroke-dasharray="5,3" stroke-linecap="butt"/>
<text x="147" y="157.0" font-size="7.2" text-anchor="end" textLength="38" lengthAdjust="spacingAndGlyphs" fill="#2a2a2a" stroke="#2a2a2a" stroke-width="0.25">8"W CONC.</text>
<text x="147" y="164.9" font-size="7.2" text-anchor="end" textLength="50" lengthAdjust="spacingAndGlyphs" fill="#2a2a2a" stroke="#2a2a2a" stroke-width="0.25">FROST WALL</text>
<path d="M150,163 C175,160 200,180 236,212.5" fill="none" stroke="#2a2a2a" stroke-width="0.9"/>
<text x="350" y="180" font-size="7.2" text-anchor="end" textLength="79.5" lengthAdjust="spacingAndGlyphs" fill="#2a2a2a" stroke="#2a2a2a" stroke-width="0.25">HATCH REPRESENTS</text>
<text x="350" y="188" font-size="7.2" text-anchor="end" textLength="65" lengthAdjust="spacingAndGlyphs" fill="#2a2a2a" stroke="#2a2a2a" stroke-width="0.25">T.O. FNDN. WALL</text>
<text x="350" y="196" font-size="7.2" text-anchor="end" textLength="56" lengthAdjust="spacingAndGlyphs" fill="#2a2a2a" stroke="#2a2a2a" stroke-width="0.25">HT. TO MATCH</text>
<text x="350" y="204" font-size="7.2" text-anchor="end" textLength="77" lengthAdjust="spacingAndGlyphs" fill="#2a2a2a" stroke="#2a2a2a" stroke-width="0.25">FRONT OF GARAGE</text>
<path d="M353,186 C375,186 390,200 402,213" fill="none" stroke="#2a2a2a" stroke-width="0.9"/>
<text x="314.6" y="251.5" font-size="7.2" text-anchor="start" textLength="37" lengthAdjust="spacingAndGlyphs" fill="#2a2a2a" stroke="#2a2a2a" stroke-width="0.25">ENG. DES.</text>
<text x="314.6" y="260.0" font-size="7.2" text-anchor="start" textLength="35" lengthAdjust="spacingAndGlyphs" fill="#2a2a2a" stroke="#2a2a2a" stroke-width="0.25">B.U. COL.</text>
<path d="M283,222 C292,235 298,249 309,249" fill="none" stroke="#2a2a2a" stroke-width="0.9"/>
<text x="230.7" y="320.5" font-size="7.2" text-anchor="start" textLength="62" lengthAdjust="spacingAndGlyphs" fill="#2a2a2a" stroke="#2a2a2a" stroke-width="0.25">BUCK CONC. FOR</text>
<text x="230.7" y="328.5" font-size="7.2" text-anchor="start" textLength="44" lengthAdjust="spacingAndGlyphs" fill="#2a2a2a" stroke="#2a2a2a" stroke-width="0.25">O.H. DOOR</text>
<line x1="234" y1="328" x2="234" y2="328" stroke="#2a2a2a" stroke-width="1.0" stroke-linecap="butt"/>
<path d="M229,323 C215,326 207,340 203,352" fill="none" stroke="#2a2a2a" stroke-width="0.9"/>
<text x="147" y="378.4" font-size="7.2" text-anchor="end" textLength="38" lengthAdjust="spacingAndGlyphs" fill="#2a2a2a" stroke="#2a2a2a" stroke-width="0.25">8"W CONC.</text>
<text x="147" y="386.29999999999995" font-size="7.2" text-anchor="end" textLength="50" lengthAdjust="spacingAndGlyphs" fill="#2a2a2a" stroke="#2a2a2a" stroke-width="0.25">FROST WALL</text>
<path d="M150,382 C168,382 180,398 196,412" fill="none" stroke="#2a2a2a" stroke-width="0.9"/>
<text x="232.3" y="418" font-size="9" text-anchor="start" textLength="82.3" lengthAdjust="spacingAndGlyphs" fill="#2a2a2a" stroke="#2a2a2a" stroke-width="0.25">SLOPE SLAB TO</text>
<line x1="223" y1="420" x2="322" y2="420" stroke="#2a2a2a" stroke-width="1.0" stroke-linecap="butt"/>
<polyline points="226,414 222.5,420 226,426" fill="none" stroke="#2a2a2a" stroke-width="1.4"/>
<text x="251.5" y="429" font-size="9" text-anchor="start" textLength="52.5" lengthAdjust="spacingAndGlyphs" fill="#2a2a2a" stroke="#2a2a2a" stroke-width="0.25">O.H. DOOR</text>
<text x="316.5" y="400" font-size="15.5" text-anchor="start" textLength="131" lengthAdjust="spacingAndGlyphs" fill="#2a2a2a" stroke="#2a2a2a" stroke-width="0">UNEXCAVATED</text>
<line x1="316" y1="402.5" x2="449" y2="402.5" stroke="#2a2a2a" stroke-width="1.0" stroke-linecap="butt"/>
<text x="357.5" y="420" font-size="15.5" text-anchor="start" textLength="50" lengthAdjust="spacingAndGlyphs" fill="#2a2a2a" stroke="#2a2a2a" stroke-width="0">AREA</text>
<line x1="356" y1="422" x2="409" y2="422" stroke="#2a2a2a" stroke-width="1.0" stroke-linecap="butt"/>
<rect x="242.4" y="456.5" width="147" height="59" fill="none" stroke="#2a2a2a" stroke-width="1.0"/>
<text x="249.5" y="469" font-size="9" text-anchor="start" textLength="26" lengthAdjust="spacingAndGlyphs" fill="#2a2a2a" stroke="#2a2a2a" stroke-width="0.25">NOTE:</text>
<line x1="249.5" y1="470.5" x2="276" y2="470.5" stroke="#2a2a2a" stroke-width="0.8" stroke-linecap="butt"/>
<text x="249.5" y="479.2" font-size="9" text-anchor="start" textLength="116" lengthAdjust="spacingAndGlyphs" fill="#2a2a2a" stroke="#2a2a2a" stroke-width="0.25">DROP SLAB AS REQ.'D</text>
<text x="249.5" y="489.7" font-size="9" text-anchor="start" textLength="110" lengthAdjust="spacingAndGlyphs" fill="#2a2a2a" stroke="#2a2a2a" stroke-width="0.25">TO ALLOW ADEQUATE</text>
<text x="249.5" y="500.2" font-size="9" text-anchor="start" textLength="136" lengthAdjust="spacingAndGlyphs" fill="#2a2a2a" stroke="#2a2a2a" stroke-width="0.25">HEADROOM FOR 9'0"H O.H.</text>
<text x="249.5" y="510.7" font-size="9" text-anchor="start" textLength="103" lengthAdjust="spacingAndGlyphs" fill="#2a2a2a" stroke="#2a2a2a" stroke-width="0.25">DOOR &amp; HARDWARE.</text>
<text x="471.2" y="189.7" font-size="7.2" text-anchor="end" textLength="38" lengthAdjust="spacingAndGlyphs" fill="#2a2a2a" stroke="#2a2a2a" stroke-width="0.25">ENG. DES.</text>
<text x="471.2" y="197.89999999999998" font-size="7.2" text-anchor="end" textLength="35" lengthAdjust="spacingAndGlyphs" fill="#2a2a2a" stroke="#2a2a2a" stroke-width="0.25">B.U. COL.</text>
<path d="M478,196 C500,196 520,205 537,213" fill="none" stroke="#2a2a2a" stroke-width="0.9"/>
<path d="M478,196 C510,196 540,225 574,272" fill="none" stroke="#2a2a2a" stroke-width="0.9"/>
<text x="476" y="250.2" font-size="7.2" text-anchor="end" textLength="75.5" lengthAdjust="spacingAndGlyphs" fill="#2a2a2a" stroke="#2a2a2a" stroke-width="0.25">8'+/-H X 8"W CONC.</text>
<text x="476" y="258.3" font-size="7.2" text-anchor="end" textLength="53.6" lengthAdjust="spacingAndGlyphs" fill="#2a2a2a" stroke="#2a2a2a" stroke-width="0.25">FOUND. WALL.</text>
<path d="M481,247 C520,247 550,265 577,291" fill="none" stroke="#2a2a2a" stroke-width="0.9"/>
<text x="471.2" y="354.4" font-size="7.2" text-anchor="end" textLength="38" lengthAdjust="spacingAndGlyphs" fill="#2a2a2a" stroke="#2a2a2a" stroke-width="0.25">ENG. DES.</text>
<text x="471.2" y="362.2" font-size="7.2" text-anchor="end" textLength="35" lengthAdjust="spacingAndGlyphs" fill="#2a2a2a" stroke="#2a2a2a" stroke-width="0.25">B.U. COL.</text>
<path d="M478,361.5 C520,361 550,340 575,327" fill="none" stroke="#2a2a2a" stroke-width="0.9"/>
<text x="528.2" y="452.5" font-size="7.2" text-anchor="end" textLength="73" lengthAdjust="spacingAndGlyphs" fill="#2a2a2a" stroke="#2a2a2a" stroke-width="0.25">LINE OF  INTERIOR</text>
<text x="528.2" y="460.5" font-size="7.2" text-anchor="end" textLength="92" lengthAdjust="spacingAndGlyphs" fill="#2a2a2a" stroke="#2a2a2a" stroke-width="0.25">FACE OF WALL ABOVE</text>
<path d="M532,456 C545,456 550,462 556,462 C566,462 572,455 582,454" fill="none" stroke="#2a2a2a" stroke-width="0.9"/>
<text x="472" y="496" font-size="7.2" text-anchor="end" textLength="78.4" lengthAdjust="spacingAndGlyphs" fill="#2a2a2a" stroke="#2a2a2a" stroke-width="0.25">10'+/-H X 8"W CONC.</text>
<text x="472" y="504" font-size="7.2" text-anchor="end" textLength="53" lengthAdjust="spacingAndGlyphs" fill="#2a2a2a" stroke="#2a2a2a" stroke-width="0.25">FOUND. WALL.</text>
<path d="M475,497 C520,497 550,506 581,514" fill="none" stroke="#2a2a2a" stroke-width="0.9"/>
<line x1="488.6" y1="208" x2="488.6" y2="589" stroke="#2a2a2a" stroke-width="1.0" stroke-linecap="butt"/>
<line x1="484.6" y1="217" x2="492.6" y2="209" stroke="#2a2a2a" stroke-width="1.6" stroke-linecap="butt"/>
<line x1="484.6" y1="325.2" x2="492.6" y2="317.2" stroke="#2a2a2a" stroke-width="1.6" stroke-linecap="butt"/>
<line x1="484.6" y1="362.7" x2="492.6" y2="354.7" stroke="#2a2a2a" stroke-width="1.6" stroke-linecap="butt"/>
<line x1="484.6" y1="439.7" x2="492.6" y2="431.7" stroke="#2a2a2a" stroke-width="1.6" stroke-linecap="butt"/>
<line x1="484.6" y1="490.8" x2="492.6" y2="482.8" stroke="#2a2a2a" stroke-width="1.6" stroke-linecap="butt"/>
<line x1="484.6" y1="571.4" x2="492.6" y2="563.4" stroke="#2a2a2a" stroke-width="1.6" stroke-linecap="butt"/>
<line x1="484.6" y1="588" x2="492.6" y2="580" stroke="#2a2a2a" stroke-width="1.6" stroke-linecap="butt"/>
<text x="483" y="267.5" font-size="9" text-anchor="middle" textLength="18" lengthAdjust="spacingAndGlyphs" transform="rotate(-90 483 267.5)" fill="#2a2a2a" stroke="#2a2a2a" stroke-width="0.25">6'-6"</text>
<text x="483" y="404" font-size="9" text-anchor="middle" textLength="22" lengthAdjust="spacingAndGlyphs" transform="rotate(-90 483 404)" fill="#2a2a2a" stroke="#2a2a2a" stroke-width="0.25">10'-0"</text>
<text x="483" y="527" font-size="9" text-anchor="middle" textLength="22" lengthAdjust="spacingAndGlyphs" transform="rotate(-90 483 527)" fill="#2a2a2a" stroke="#2a2a2a" stroke-width="0.25">4'-10"</text>
<text x="483" y="576" font-size="9" text-anchor="middle" textLength="16" lengthAdjust="spacingAndGlyphs" transform="rotate(-90 483 576)" fill="#2a2a2a" stroke="#2a2a2a" stroke-width="0.25">1'-0"</text>
<line x1="480.4" y1="321.2" x2="574" y2="321.2" stroke="#2a2a2a" stroke-width="1.0" stroke-linecap="butt"/>
<line x1="480" y1="358.7" x2="574" y2="358.7" stroke="#2a2a2a" stroke-width="1.0" stroke-linecap="butt"/>
<line x1="480" y1="435.7" x2="574" y2="435.7" stroke="#2a2a2a" stroke-width="1.0" stroke-linecap="butt"/>
<line x1="480" y1="486.8" x2="574" y2="486.8" stroke="#2a2a2a" stroke-width="1.0" stroke-linecap="butt"/>
<line x1="480" y1="567.4" x2="574" y2="567.4" stroke="#2a2a2a" stroke-width="1.0" stroke-linecap="butt"/>
<line x1="502.4" y1="550.2" x2="578.9" y2="550.2" stroke="#2a2a2a" stroke-width="1.0" stroke-linecap="butt"/>
<line x1="503.4" y1="554.2" x2="511.4" y2="546.2" stroke="#2a2a2a" stroke-width="1.6" stroke-linecap="butt"/>
<line x1="569.9" y1="554.2" x2="577.9" y2="546.2" stroke="#2a2a2a" stroke-width="1.6" stroke-linecap="butt"/>
<text x="541" y="545" font-size="9" text-anchor="middle" textLength="18" lengthAdjust="spacingAndGlyphs" fill="#2a2a2a" stroke="#2a2a2a" stroke-width="0.25">4'-0"</text>
<line x1="507.4" y1="542" x2="507.4" y2="584" stroke="#2a2a2a" stroke-width="1.0" stroke-linecap="butt"/>
<line x1="187" y1="552.5" x2="280" y2="552.5" stroke="#2a2a2a" stroke-width="1.0" stroke-linecap="butt"/>
<line x1="188" y1="556.5" x2="196" y2="548.5" stroke="#2a2a2a" stroke-width="1.6" stroke-linecap="butt"/>
<line x1="271" y1="556.5" x2="279" y2="548.5" stroke="#2a2a2a" stroke-width="1.6" stroke-linecap="butt"/>
<text x="233" y="547" font-size="9" text-anchor="middle" textLength="18" lengthAdjust="spacingAndGlyphs" fill="#2a2a2a" stroke="#2a2a2a" stroke-width="0.25">5'-0"</text>
<line x1="275" y1="545" x2="275" y2="584" stroke="#2a2a2a" stroke-width="1.0" stroke-linecap="butt"/>
<rect x="274.5" y="586.5" width="8.5" height="8.5" fill="#fff" stroke="#2a2a2a" stroke-width="1.0"/>
<line x1="274.5" y1="586.5" x2="283.0" y2="595.0" stroke="#2a2a2a" stroke-width="0.8" stroke-linecap="butt"/>
<line x1="283.0" y1="586.5" x2="274.5" y2="595.0" stroke="#2a2a2a" stroke-width="0.8" stroke-linecap="butt"/>
<text x="311" y="555.5" font-size="7.2" text-anchor="start" textLength="38" lengthAdjust="spacingAndGlyphs" fill="#2a2a2a" stroke="#2a2a2a" stroke-width="0.25">ENG. DES.</text>
<text x="311" y="563.7" font-size="7.2" text-anchor="start" textLength="35" lengthAdjust="spacingAndGlyphs" fill="#2a2a2a" stroke="#2a2a2a" stroke-width="0.25">B.U. COL.</text>
<path d="M308,559 C297,559 290,572 281,587" fill="none" stroke="#2a2a2a" stroke-width="0.9"/>
<line x1="594" y1="235" x2="654" y2="235" stroke="#2a2a2a" stroke-width="1.0" stroke-dasharray="6,3" stroke-linecap="butt"/>
<line x1="594" y1="248.7" x2="654" y2="248.7" stroke="#2a2a2a" stroke-width="1.0" stroke-dasharray="6,3" stroke-linecap="butt"/>
<line x1="594" y1="262.6" x2="654" y2="262.6" stroke="#2a2a2a" stroke-width="1.0" stroke-dasharray="6,3" stroke-linecap="butt"/>
<line x1="640.7" y1="209" x2="640.7" y2="325.2" stroke="#2a2a2a" stroke-width="1.0" stroke-linecap="butt"/>
<line x1="636.7" y1="217" x2="644.7" y2="209" stroke="#2a2a2a" stroke-width="1.6" stroke-linecap="butt"/>
<line x1="636.7" y1="266.6" x2="644.7" y2="258.6" stroke="#2a2a2a" stroke-width="1.6" stroke-linecap="butt"/>
<line x1="636.7" y1="325.2" x2="644.7" y2="317.2" stroke="#2a2a2a" stroke-width="1.6" stroke-linecap="butt"/>
<text x="635" y="240" font-size="9" text-anchor="middle" textLength="18" lengthAdjust="spacingAndGlyphs" transform="rotate(-90 635 240)" fill="#2a2a2a" stroke="#2a2a2a" stroke-width="0.25">3'-0"</text>
<text x="635" y="292" font-size="9" text-anchor="middle" textLength="18" lengthAdjust="spacingAndGlyphs" transform="rotate(-90 635 292)" fill="#2a2a2a" stroke="#2a2a2a" stroke-width="0.25">3'-6"</text>
<line x1="635" y1="262.6" x2="654" y2="262.6" stroke="#2a2a2a" stroke-width="1.0" stroke-linecap="butt"/>
<line x1="668.3" y1="265" x2="668.3" y2="321" stroke="#2a2a2a" stroke-width="1.0" stroke-dasharray="5,3" stroke-linecap="butt"/>
<line x1="682.1" y1="265" x2="682.1" y2="321" stroke="#2a2a2a" stroke-width="1.0" stroke-dasharray="5,3" stroke-linecap="butt"/>
<line x1="696" y1="265" x2="696" y2="321" stroke="#2a2a2a" stroke-width="1.0" stroke-linecap="butt"/>
<line x1="709.7" y1="265" x2="709.7" y2="321" stroke="#2a2a2a" stroke-width="1.0" stroke-linecap="butt"/>
<line x1="723.6" y1="265" x2="723.6" y2="321" stroke="#2a2a2a" stroke-width="1.0" stroke-linecap="butt"/>
<line x1="737.4" y1="265" x2="737.4" y2="321" stroke="#2a2a2a" stroke-width="1.0" stroke-linecap="butt"/>
<line x1="751.2" y1="265" x2="751.2" y2="321" stroke="#2a2a2a" stroke-width="1.0" stroke-linecap="butt"/>
<line x1="765" y1="265" x2="765" y2="321" stroke="#2a2a2a" stroke-width="1.0" stroke-linecap="butt"/>
<line x1="778.8" y1="265" x2="778.8" y2="321" stroke="#2a2a2a" stroke-width="1.0" stroke-linecap="butt"/>
<line x1="787.7" y1="232" x2="787.7" y2="321" stroke="#2a2a2a" stroke-width="0.9" stroke-dasharray="5,3" stroke-linecap="butt"/>
<line x1="650" y1="277" x2="800" y2="277" stroke="#2a2a2a" stroke-width="1.0" stroke-linecap="butt"/>
<line x1="650.5" y1="281" x2="658.5" y2="273" stroke="#2a2a2a" stroke-width="1.6" stroke-linecap="butt"/>
<line x1="775" y1="281" x2="783" y2="273" stroke="#2a2a2a" stroke-width="1.6" stroke-linecap="butt"/>
<line x1="783.7" y1="281" x2="791.7" y2="273" stroke="#2a2a2a" stroke-width="1.6" stroke-linecap="butt"/>
<text x="717" y="274" font-size="9" text-anchor="middle" textLength="16" lengthAdjust="spacingAndGlyphs" fill="#2a2a2a" stroke="#2a2a2a" stroke-width="0.25">1'-6"</text>
<text x="782" y="273" font-size="8" text-anchor="middle" textLength="6" lengthAdjust="spacingAndGlyphs" fill="#2a2a2a" stroke="#2a2a2a" stroke-width="0.25">6"</text>
<line x1="697" y1="293.4" x2="785" y2="293.4" stroke="#2a2a2a" stroke-width="1.0" stroke-linecap="butt"/>
<polyline points="705.5,285.3 697,293.4 705.5,301.4" fill="none" stroke="#2a2a2a" stroke-width="1.1"/>
<text x="710" y="291" font-size="11" text-anchor="start" textLength="72" lengthAdjust="spacingAndGlyphs" fill="#2a2a2a" stroke="#2a2a2a" stroke-width="0">13 EQ. RISERS</text>
<text x="723.6" y="300.5" font-size="11" text-anchor="start" textLength="45.4" lengthAdjust="spacingAndGlyphs" fill="#2a2a2a" stroke="#2a2a2a" stroke-width="0">CONFIRM</text>
<text x="778.8" y="300.5" font-size="10" text-anchor="start" textLength="11.5" lengthAdjust="spacingAndGlyphs" fill="#2a2a2a" stroke="#2a2a2a" stroke-width="0">UP</text>
<line x1="725" y1="316.2" x2="812" y2="316.2" stroke="#2a2a2a" stroke-width="1.0" stroke-linecap="butt"/>
<line x1="733.9" y1="319.7" x2="740.9" y2="312.7" stroke="#2a2a2a" stroke-width="1.6" stroke-linecap="butt"/>
<line x1="747.7" y1="319.7" x2="754.7" y2="312.7" stroke="#2a2a2a" stroke-width="1.6" stroke-linecap="butt"/>
<line x1="761.5" y1="319.7" x2="768.5" y2="312.7" stroke="#2a2a2a" stroke-width="1.6" stroke-linecap="butt"/>
<line x1="775.5" y1="319.7" x2="782.5" y2="312.7" stroke="#2a2a2a" stroke-width="1.6" stroke-linecap="butt"/>
<line x1="784.2" y1="319.7" x2="791.2" y2="312.7" stroke="#2a2a2a" stroke-width="1.6" stroke-linecap="butt"/>
<text x="744" y="311" font-size="9" text-anchor="middle" textLength="10" lengthAdjust="spacingAndGlyphs" fill="#2a2a2a" stroke="#2a2a2a" stroke-width="0.25">10"</text>
<text x="758" y="311" font-size="9" text-anchor="middle" textLength="10" lengthAdjust="spacingAndGlyphs" fill="#2a2a2a" stroke="#2a2a2a" stroke-width="0.25">10"</text>
<text x="803" y="309" font-size="9" text-anchor="middle" textLength="10" lengthAdjust="spacingAndGlyphs" transform="rotate(-20 803 309)" fill="#2a2a2a" stroke="#2a2a2a" stroke-width="0.25">10"</text>
<line x1="700" y1="209" x2="700" y2="251" stroke="#2a2a2a" stroke-width="1.0" stroke-linecap="butt"/>
<line x1="696" y1="217" x2="704" y2="209" stroke="#2a2a2a" stroke-width="1.6" stroke-linecap="butt"/>
<line x1="696" y1="251" x2="704" y2="243" stroke="#2a2a2a" stroke-width="1.6" stroke-linecap="butt"/>
<text x="694" y="230" font-size="9" text-anchor="middle" textLength="18" lengthAdjust="spacingAndGlyphs" transform="rotate(-90 694 230)" fill="#2a2a2a" stroke="#2a2a2a" stroke-width="0.25">2'-0"</text>
<line x1="775.6" y1="209" x2="775.6" y2="251" stroke="#2a2a2a" stroke-width="1.0" stroke-linecap="butt"/>
<line x1="771.6" y1="217" x2="779.6" y2="209" stroke="#2a2a2a" stroke-width="1.6" stroke-linecap="butt"/>
<line x1="771.6" y1="251" x2="779.6" y2="243" stroke="#2a2a2a" stroke-width="1.6" stroke-linecap="butt"/>
<text x="769.6" y="230" font-size="9" text-anchor="middle" textLength="18" lengthAdjust="spacingAndGlyphs" transform="rotate(-90 769.6 230)" fill="#2a2a2a" stroke="#2a2a2a" stroke-width="0.25">2'-0"</text>
<rect x="774" y="247" width="9.5" height="9.5" fill="#fff" stroke="#2a2a2a" stroke-width="1.0"/>
<line x1="774" y1="247" x2="783.5" y2="256.5" stroke="#2a2a2a" stroke-width="0.8" stroke-linecap="butt"/>
<line x1="783.5" y1="247" x2="774" y2="256.5" stroke="#2a2a2a" stroke-width="0.8" stroke-linecap="butt"/>
<rect x="783.5" y="247" width="9.5" height="9.5" fill="#fff" stroke="#2a2a2a" stroke-width="1.0"/>
<line x1="783.5" y1="247" x2="793.0" y2="256.5" stroke="#2a2a2a" stroke-width="0.8" stroke-linecap="butt"/>
<line x1="793.0" y1="247" x2="783.5" y2="256.5" stroke="#2a2a2a" stroke-width="0.8" stroke-linecap="butt"/>
<line x1="817.8" y1="240.7" x2="817.8" y2="325.2" stroke="#2a2a2a" stroke-width="1.0" stroke-linecap="butt"/>
<line x1="813.8" y1="248.7" x2="821.8" y2="240.7" stroke="#2a2a2a" stroke-width="1.6" stroke-linecap="butt"/>
<line x1="813.8" y1="325.2" x2="821.8" y2="317.2" stroke="#2a2a2a" stroke-width="1.6" stroke-linecap="butt"/>
<text x="812" y="283" font-size="9" text-anchor="middle" textLength="18" lengthAdjust="spacingAndGlyphs" transform="rotate(-90 812 283)" fill="#2a2a2a" stroke="#2a2a2a" stroke-width="0.25">4'-6"</text>
<line x1="807" y1="247" x2="830" y2="247" stroke="#2a2a2a" stroke-width="1.0" stroke-linecap="butt"/>
<line x1="795" y1="321.2" x2="826" y2="321.2" stroke="#2a2a2a" stroke-width="1.0" stroke-linecap="butt"/>
<rect x="585.7" y="321.6" width="65.0" height="7.5" fill="url(#h1)" stroke="#2a2a2a" stroke-width="1"/>
<rect x="650.7" y="322.5" width="4.5" height="5.5" fill="#fff" stroke="#2a2a2a" stroke-width="0.9"/>
<rect x="697" y="322.5" width="4.5" height="5.5" fill="#fff" stroke="#2a2a2a" stroke-width="0.9"/>
<line x1="702" y1="321.6" x2="710.8" y2="321.6" stroke="#2a2a2a" stroke-width="1.0" stroke-linecap="butt"/>
<line x1="702" y1="329.1" x2="710.8" y2="329.1" stroke="#2a2a2a" stroke-width="1.0" stroke-linecap="butt"/>
<line x1="705" y1="321.6" x2="705" y2="329.1" stroke="#2a2a2a" stroke-width="0.8" stroke-linecap="butt"/>
<rect x="710.8" y="321.6" width="84.80000000000007" height="7.5" fill="url(#h1)" stroke="#2a2a2a" stroke-width="1"/>
<rect x="773.7" y="321.6" width="8.5" height="8.5" fill="#fff" stroke="#2a2a2a" stroke-width="1.0"/>
<line x1="773.7" y1="321.6" x2="782.2" y2="330.1" stroke="#2a2a2a" stroke-width="0.8" stroke-linecap="butt"/>
<line x1="782.2" y1="321.6" x2="773.7" y2="330.1" stroke="#2a2a2a" stroke-width="0.8" stroke-linecap="butt"/>
<rect x="574" y="321.5" width="8.5" height="8.5" fill="#fff" stroke="#2a2a2a" stroke-width="1.0"/>
<line x1="574" y1="321.5" x2="582.5" y2="330.0" stroke="#2a2a2a" stroke-width="0.8" stroke-linecap="butt"/>
<line x1="582.5" y1="321.5" x2="574" y2="330.0" stroke="#2a2a2a" stroke-width="0.8" stroke-linecap="butt"/>
<path d="M697.5,327.3 L657.9,346.1 L657,344 L696.6,325.2 Z" fill="none" stroke="#2a2a2a" stroke-width="0.9"/>
<path d="M655.5,328 A42,42 0 0,0 658,346" fill="none" stroke="#2a2a2a" stroke-width="0.8"/>
<polyline points="678.6,257.5 691.4,289 687.8,297 696.5,290 696,301 705,328" fill="none" stroke="#2a2a2a" stroke-width="0.9"/>
<text x="663.4" y="319" font-size="12" fill="#2a2a2a" textLength="27" lengthAdjust="spacingAndGlyphs">2<tspan dy="-4" font-size="8">8</tspan><tspan dy="4">6</tspan><tspan dy="-4" font-size="8">8</tspan></text>
<text x="666" y="330" font-size="10.5" text-anchor="start" textLength="20" lengthAdjust="spacingAndGlyphs" fill="#2a2a2a" stroke="#2a2a2a" stroke-width="0">TBC</text>
<text x="659.9" y="337.6" font-size="10" text-anchor="start" textLength="52.3" lengthAdjust="spacingAndGlyphs" fill="#2a2a2a" stroke="#2a2a2a" stroke-width="0">ENG. LINTEL</text>
<rect x="594.8" y="329.8" width="34.7" height="43.8" fill="none" stroke="#2a2a2a" stroke-width="1.0"/>
<line x1="626.7" y1="329.8" x2="626.7" y2="373.6" stroke="#2a2a2a" stroke-width="0.9" stroke-linecap="butt"/>
<text x="603.5" y="352.4" font-size="8" text-anchor="middle" textLength="36" lengthAdjust="spacingAndGlyphs" transform="rotate(-90 603.5 352.4)" fill="#2a2a2a" stroke="#2a2a2a" stroke-width="0.25">COUNTER</text>
<text x="612" y="352.4" font-size="8" text-anchor="middle" textLength="24" lengthAdjust="spacingAndGlyphs" transform="rotate(-90 612 352.4)" fill="#2a2a2a" stroke="#2a2a2a" stroke-width="0.25">DEPTH</text>
<text x="620" y="352.4" font-size="8" text-anchor="middle" textLength="27" lengthAdjust="spacingAndGlyphs" transform="rotate(-90 620 352.4)" fill="#2a2a2a" stroke="#2a2a2a" stroke-width="0.25">FRIDGE</text>
<line x1="626.7" y1="373.6" x2="626.7" y2="388.5" stroke="#2a2a2a" stroke-width="1.0" stroke-linecap="butt"/>
<rect x="594.1" y="388.5" width="35.4" height="41.7" fill="none" stroke="#2a2a2a" stroke-width="1.0"/>
<circle cx="601.5" cy="397" r="5.7" fill="none" stroke="#2a2a2a" stroke-width="0.9"/>
<circle cx="621.3" cy="397" r="5.7" fill="none" stroke="#2a2a2a" stroke-width="0.9"/>
<circle cx="601.5" cy="421.7" r="5.7" fill="none" stroke="#2a2a2a" stroke-width="0.9"/>
<circle cx="621.3" cy="421.7" r="5.7" fill="none" stroke="#2a2a2a" stroke-width="0.9"/>
<line x1="610" y1="374" x2="610" y2="479" stroke="#2a2a2a" stroke-width="0.9" stroke-dasharray="6,3" stroke-linecap="butt"/>
<line x1="626.7" y1="430.2" x2="626.7" y2="446.4" stroke="#2a2a2a" stroke-width="1.0" stroke-linecap="butt"/>
<line x1="626.7" y1="446.4" x2="681.4" y2="446.4" stroke="#2a2a2a" stroke-width="1.0" stroke-linecap="butt"/>
<line x1="610" y1="462" x2="785" y2="462" stroke="#2a2a2a" stroke-width="0.9" stroke-dasharray="6,3" stroke-linecap="butt"/>
<text x="684.6" y="354.5" font-size="9" text-anchor="middle" textLength="20" lengthAdjust="spacingAndGlyphs" fill="#2a2a2a" stroke="#2a2a2a" stroke-width="0.25">13'-4"</text>
<text x="698" y="376.5" font-size="14.5" text-anchor="middle" textLength="87.7" lengthAdjust="spacingAndGlyphs" fill="#2a2a2a" stroke="#2a2a2a" stroke-width="0">SUITE KIT.</text>
<line x1="655" y1="379.2" x2="743" y2="379.2" stroke="#2a2a2a" stroke-width="1.0" stroke-linecap="butt"/>
<text x="694" y="390.6" font-size="10" text-anchor="middle" textLength="53" lengthAdjust="spacingAndGlyphs" fill="#2a2a2a" stroke="#2a2a2a" stroke-width="0">11'6"x 9'0"</text>
<ellipse cx="696" cy="400.9" rx="21.9" ry="5.9" fill="#fff" stroke="#2a2a2a" stroke-width="1.0"/>
<text x="696" y="403.96" font-size="8.5" text-anchor="middle" textLength="30" lengthAdjust="spacingAndGlyphs" fill="#2a2a2a" stroke="#2a2a2a" stroke-width="0.25">9' CLG.</text>
<text x="736.6" y="416.3" font-size="8" text-anchor="end" textLength="53.4" lengthAdjust="spacingAndGlyphs" fill="#2a2a2a" stroke="#2a2a2a" stroke-width="0.25">2X6 BEARING</text>
<text x="736.6" y="423.8" font-size="8" text-anchor="end" textLength="20" lengthAdjust="spacingAndGlyphs" fill="#2a2a2a" stroke="#2a2a2a" stroke-width="0.25">WALL</text>
<path d="M739,417 C752,420 756,445 761,479" fill="none" stroke="#2a2a2a" stroke-width="0.9"/>
<text x="763" y="379.3" font-size="8" text-anchor="start" textLength="53.4" lengthAdjust="spacingAndGlyphs" fill="#2a2a2a" stroke="#2a2a2a" stroke-width="0.25">2X6 BEARING</text>
<text x="763" y="386.3" font-size="8" text-anchor="start" textLength="20" lengthAdjust="spacingAndGlyphs" fill="#2a2a2a" stroke="#2a2a2a" stroke-width="0.25">WALL</text>
<path d="M762,383 C748,380 742,360 737,340 C735,333 733,330 731,327" fill="none" stroke="#2a2a2a" stroke-width="0.9"/>
<line x1="721.7" y1="435.3" x2="1026" y2="435.3" stroke="#2a2a2a" stroke-width="1.0" stroke-linecap="butt"/>
<line x1="722.7" y1="439.3" x2="730.7" y2="431.3" stroke="#2a2a2a" stroke-width="1.6" stroke-linecap="butt"/>
<line x1="794.8" y1="439.3" x2="802.8" y2="431.3" stroke="#2a2a2a" stroke-width="1.6" stroke-linecap="butt"/>
<line x1="861.2" y1="439.3" x2="869.2" y2="431.3" stroke="#2a2a2a" stroke-width="1.6" stroke-linecap="butt"/>
<line x1="928" y1="439.3" x2="936" y2="431.3" stroke="#2a2a2a" stroke-width="1.6" stroke-linecap="butt"/>
<line x1="1017" y1="439.3" x2="1025" y2="431.3" stroke="#2a2a2a" stroke-width="1.6" stroke-linecap="butt"/>
<text x="650" y="431.6" font-size="9" text-anchor="middle" textLength="18" lengthAdjust="spacingAndGlyphs" fill="#2a2a2a" stroke="#2a2a2a" stroke-width="0.25">9'-2"</text>
<text x="763.4" y="430.6" font-size="9" text-anchor="middle" textLength="18" lengthAdjust="spacingAndGlyphs" fill="#2a2a2a" stroke="#2a2a2a" stroke-width="0.25">4'-4"</text>
<text x="832" y="430.6" font-size="9" text-anchor="middle" textLength="18" lengthAdjust="spacingAndGlyphs" fill="#2a2a2a" stroke="#2a2a2a" stroke-width="0.25">4'-0"</text>
<text x="898" y="430.6" font-size="9" text-anchor="middle" textLength="18" lengthAdjust="spacingAndGlyphs" fill="#2a2a2a" stroke="#2a2a2a" stroke-width="0.25">4'-0"</text>
<text x="975" y="430.6" font-size="9" text-anchor="middle" textLength="18" lengthAdjust="spacingAndGlyphs" fill="#2a2a2a" stroke="#2a2a2a" stroke-width="0.25">5'-4"</text>
<line x1="574" y1="435.3" x2="726.7" y2="435.3" stroke="#2a2a2a" stroke-width="1.0" stroke-linecap="butt"/>
<line x1="726.7" y1="427" x2="726.7" y2="446" stroke="#2a2a2a" stroke-width="1.0" stroke-linecap="butt"/>
<line x1="798.8" y1="427" x2="798.8" y2="478" stroke="#2a2a2a" stroke-width="1.0" stroke-linecap="butt"/>
<line x1="865.2" y1="427" x2="865.2" y2="478" stroke="#2a2a2a" stroke-width="1.0" stroke-linecap="butt"/>
<line x1="932" y1="427" x2="932" y2="478" stroke="#2a2a2a" stroke-width="1.0" stroke-linecap="butt"/>
<rect x="681.4" y="446.4" width="45.3" height="32" fill="none" stroke="#2a2a2a" stroke-width="1.0"/>
<rect x="683.5" y="449.7" width="19.8" height="20.5" fill="none" stroke="#2a2a2a" stroke-width="0.9" rx="2.5"/>
<rect x="704.7" y="449.7" width="19.1" height="20.5" fill="none" stroke="#2a2a2a" stroke-width="0.9" rx="2.5"/>
<circle cx="693.5" cy="460.2" r="1.8" fill="none" stroke="#2a2a2a" stroke-width="0.8"/>
<circle cx="714" cy="460.2" r="1.8" fill="none" stroke="#2a2a2a" stroke-width="0.8"/>
<circle cx="698.5" cy="473.7" r="1" fill="#2a2a2a"/>
<circle cx="703.5" cy="473.7" r="1" fill="#2a2a2a"/>
<circle cx="708.5" cy="473.7" r="1" fill="#2a2a2a"/>
<rect x="729.5" y="442.6" width="33.2" height="36" fill="none" stroke="#2a2a2a" stroke-width="1.0"/>
<rect x="729.5" y="445.4" width="55.1" height="33" fill="none" stroke="#2a2a2a" stroke-width="1.0"/>
<rect x="742" y="440.5" width="8" height="2" fill="none" stroke="#2a2a2a" stroke-width="0.8"/>
<text x="746" y="466" font-size="12" text-anchor="middle" textLength="16" lengthAdjust="spacingAndGlyphs" fill="#2a2a2a" stroke="#2a2a2a" stroke-width="0">DW</text>
<rect x="593.6" y="479.4" width="205.89999999999998" height="8.200000000000045" fill="url(#h1)" stroke="#2a2a2a" stroke-width="1"/>
<rect x="721" y="479.4" width="5.7" height="8.2" fill="#fff" stroke="#2a2a2a" stroke-width="0.9"/>
<line x1="721" y1="479.4" x2="726.7" y2="487.6" stroke="#2a2a2a" stroke-width="0.6" stroke-linecap="butt"/>
<line x1="726.7" y1="479.4" x2="721" y2="487.6" stroke="#2a2a2a" stroke-width="0.6" stroke-linecap="butt"/>
<rect x="790.3" y="479.4" width="8.5" height="8.5" fill="#fff" stroke="#2a2a2a" stroke-width="1.0"/>
<line x1="790.3" y1="479.4" x2="798.8" y2="487.9" stroke="#2a2a2a" stroke-width="0.8" stroke-linecap="butt"/>
<line x1="798.8" y1="479.4" x2="790.3" y2="487.9" stroke="#2a2a2a" stroke-width="0.8" stroke-linecap="butt"/>
<line x1="574" y1="358.8" x2="800" y2="358.8" stroke="#2a2a2a" stroke-width="1.0" stroke-linecap="butt"/>
<line x1="569.5" y1="362.8" x2="577.5" y2="354.8" stroke="#2a2a2a" stroke-width="1.6" stroke-linecap="butt"/>
<line x1="791" y1="362.8" x2="799" y2="354.8" stroke="#2a2a2a" stroke-width="1.6" stroke-linecap="butt"/>
<line x1="569.5" y1="439.3" x2="577.5" y2="431.3" stroke="#2a2a2a" stroke-width="1.6" stroke-linecap="butt"/>
<text x="824.3" y="371.6" font-size="7.2" text-anchor="start" textLength="38" lengthAdjust="spacingAndGlyphs" fill="#2a2a2a" stroke="#2a2a2a" stroke-width="0.25">ENG. DES.</text>
<text x="824.3" y="379.5" font-size="7.2" text-anchor="start" textLength="35" lengthAdjust="spacingAndGlyphs" fill="#2a2a2a" stroke="#2a2a2a" stroke-width="0.25">B.U. COL.</text>
<path d="M822,375 C805,372 795,345 781,330" fill="none" stroke="#2a2a2a" stroke-width="0.9"/>
<polygon points="826,53.900000000000006 850.5,77.4 826,100.9" fill="#111"/>
<circle cx="826" cy="77.4" r="17.5" fill="#fff" stroke="#2a2a2a" stroke-width="1.2"/>
<line x1="808.5" y1="77.4" x2="843.5" y2="77.4" stroke="#2a2a2a" stroke-width="1.0" stroke-linecap="butt"/>
<text x="826" y="73.9" font-size="11" text-anchor="middle" textLength="9" lengthAdjust="spacingAndGlyphs" fill="#2a2a2a" stroke="#2a2a2a" stroke-width="0">A</text>
<text x="826" y="89.9" font-size="11" text-anchor="middle" textLength="16" lengthAdjust="spacingAndGlyphs" fill="#2a2a2a" stroke="#2a2a2a" stroke-width="0">A8</text>
<line x1="826" y1="96" x2="826" y2="107" stroke="#2a2a2a" stroke-width="3" stroke-linecap="butt"/>
<line x1="826" y1="132" x2="826" y2="149" stroke="#111" stroke-width="3.2" stroke-linecap="butt"/>
<line x1="826" y1="173" x2="826" y2="190" stroke="#111" stroke-width="3.2" stroke-linecap="butt"/>
<line x1="826" y1="214" x2="826" y2="231" stroke="#111" stroke-width="3.2" stroke-linecap="butt"/>
<line x1="826" y1="255" x2="826" y2="272" stroke="#111" stroke-width="3.2" stroke-linecap="butt"/>
<line x1="826" y1="698" x2="826" y2="721" stroke="#111" stroke-width="3.2" stroke-linecap="butt"/>
<line x1="826" y1="747" x2="826" y2="763" stroke="#111" stroke-width="3.2" stroke-linecap="butt"/>
<line x1="826" y1="788" x2="826" y2="806" stroke="#111" stroke-width="3.2" stroke-linecap="butt"/>
<line x1="826" y1="827" x2="826" y2="846" stroke="#111" stroke-width="3.2" stroke-linecap="butt"/>
<circle cx="826" cy="115" r="0.8" fill="#999"/>
<circle cx="826" cy="157" r="0.8" fill="#999"/>
<circle cx="826" cy="198" r="0.8" fill="#999"/>
<circle cx="826" cy="206" r="0.8" fill="#999"/>
<circle cx="826" cy="730" r="0.8" fill="#999"/>
<circle cx="826" cy="770" r="0.8" fill="#999"/>
<circle cx="826" cy="810" r="0.8" fill="#999"/>
<circle cx="826" cy="855" r="0.8" fill="#999"/>
<circle cx="826" cy="862" r="0.8" fill="#999"/>
<line x1="826" y1="870" x2="826" y2="893" stroke="#111" stroke-width="3.2" stroke-linecap="butt"/>
<polygon points="826,886.5 850.5,910 826,933.5" fill="#111"/>
<circle cx="826" cy="910" r="17.5" fill="#fff" stroke="#2a2a2a" stroke-width="1.2"/>
<line x1="808.5" y1="910" x2="843.5" y2="910" stroke="#2a2a2a" stroke-width="1.0" stroke-linecap="butt"/>
<text x="826" y="906.5" font-size="11" text-anchor="middle" textLength="9" lengthAdjust="spacingAndGlyphs" fill="#2a2a2a" stroke="#2a2a2a" stroke-width="0">A</text>
<text x="826" y="922.5" font-size="11" text-anchor="middle" textLength="16" lengthAdjust="spacingAndGlyphs" fill="#2a2a2a" stroke="#2a2a2a" stroke-width="0">A8</text>
<polygon points="111,522 159,522 135,546" fill="#111"/>
<circle cx="135" cy="522" r="16.5" fill="#fff" stroke="#2a2a2a" stroke-width="1.2"/>
<line x1="118.5" y1="522" x2="151.5" y2="522" stroke="#2a2a2a" stroke-width="1.0" stroke-linecap="butt"/>
<text x="135" y="518.5" font-size="11" text-anchor="middle" textLength="9" lengthAdjust="spacingAndGlyphs" fill="#2a2a2a" stroke="#2a2a2a" stroke-width="0">B</text>
<text x="135" y="534.5" font-size="11" text-anchor="middle" textLength="16" lengthAdjust="spacingAndGlyphs" fill="#2a2a2a" stroke="#2a2a2a" stroke-width="0">A8</text>
<line x1="160" y1="522" x2="177" y2="522" stroke="#111" stroke-width="3.2" stroke-linecap="butt"/>
<line x1="197.5" y1="522" x2="214.5" y2="522" stroke="#111" stroke-width="3.2" stroke-linecap="butt"/>
<line x1="239.5" y1="522" x2="256.5" y2="522" stroke="#111" stroke-width="3.2" stroke-linecap="butt"/>
<line x1="281" y1="522" x2="298" y2="522" stroke="#111" stroke-width="3.2" stroke-linecap="butt"/>
<circle cx="177" cy="522" r="0.8" fill="#999"/>
<circle cx="185" cy="522" r="0.8" fill="#999"/>
<circle cx="222" cy="522" r="0.8" fill="#999"/>
<circle cx="230" cy="522" r="0.8" fill="#999"/>
<circle cx="264" cy="522" r="0.8" fill="#999"/>
<circle cx="272" cy="522" r="0.8" fill="#999"/>
<polygon points="1541,523 1589,523 1565,547" fill="#111"/>
<circle cx="1565" cy="523" r="16.5" fill="#fff" stroke="#2a2a2a" stroke-width="1.2"/>
<line x1="1548.5" y1="523" x2="1581.5" y2="523" stroke="#2a2a2a" stroke-width="1.0" stroke-linecap="butt"/>
<text x="1565" y="519.5" font-size="11" text-anchor="middle" textLength="9" lengthAdjust="spacingAndGlyphs" fill="#2a2a2a" stroke="#2a2a2a" stroke-width="0">B</text>
<text x="1565" y="535.5" font-size="11" text-anchor="middle" textLength="16" lengthAdjust="spacingAndGlyphs" fill="#2a2a2a" stroke="#2a2a2a" stroke-width="0">A8</text>
<line x1="1320" y1="523" x2="1338" y2="523" stroke="#111" stroke-width="3.2" stroke-linecap="butt"/>
<circle cx="1346" cy="523" r="0.8" fill="#999"/>
<circle cx="1354" cy="523" r="0.8" fill="#999"/>
<line x1="1362" y1="523" x2="1380" y2="523" stroke="#111" stroke-width="3.2" stroke-linecap="butt"/>
<circle cx="1388" cy="523" r="0.8" fill="#999"/>
<circle cx="1396" cy="523" r="0.8" fill="#999"/>
<line x1="1404" y1="523" x2="1422" y2="523" stroke="#111" stroke-width="3.2" stroke-linecap="butt"/>
<circle cx="1430" cy="523" r="0.8" fill="#999"/>
<circle cx="1438" cy="523" r="0.8" fill="#999"/>
<line x1="1447" y1="523" x2="1465" y2="523" stroke="#111" stroke-width="3.2" stroke-linecap="butt"/>
<circle cx="1473" cy="523" r="0.8" fill="#999"/>
<circle cx="1481" cy="523" r="0.8" fill="#999"/>
<line x1="1489" y1="523" x2="1507" y2="523" stroke="#111" stroke-width="3.2" stroke-linecap="butt"/>
<circle cx="1515" cy="523" r="0.8" fill="#999"/>
<circle cx="1523" cy="523" r="0.8" fill="#999"/>
<line x1="1530" y1="523" x2="1548" y2="523" stroke="#111" stroke-width="3.2" stroke-linecap="butt"/>
<circle cx="1556" cy="523" r="0.8" fill="#999"/>
<circle cx="1564" cy="523" r="0.8" fill="#999"/>
<rect x="593.6" y="561.4" width="139.39999999999998" height="5.2000000000000455" fill="#acacac" stroke="#333" stroke-width="1.2"/>
<rect x="721" y="487.6" width="5.7000000000000455" height="14.399999999999977" fill="#acacac" stroke="#333" stroke-width="1.2"/>
<rect x="721" y="547" width="5.7" height="5" fill="#fff" stroke="#2a2a2a" stroke-width="0.9"/>
<rect x="721" y="552" width="5.7000000000000455" height="14.600000000000023" fill="#acacac" stroke="#333" stroke-width="1.2"/>
<rect x="733" y="561.4" width="5" height="5.2" fill="#fff" stroke="#2a2a2a" stroke-width="0.9"/>
<rect x="596" y="492" width="38.5" height="30.5" fill="none" stroke="#2a2a2a" stroke-width="1.0"/>
<text x="618" y="507" font-size="8" text-anchor="middle" textLength="20" lengthAdjust="spacingAndGlyphs" transform="rotate(-90 618 507)" fill="#2a2a2a" stroke="#2a2a2a" stroke-width="0.25">FURN.</text>
<circle cx="652.5" cy="504" r="15" fill="none" stroke="#2a2a2a" stroke-width="1.0"/>
<text x="655" y="504" font-size="8" text-anchor="middle" textLength="18" lengthAdjust="spacingAndGlyphs" transform="rotate(-90 655 504)" fill="#2a2a2a" stroke="#2a2a2a" stroke-width="0.25">HWT.</text>
<circle cx="658" cy="524" r="3" fill="none" stroke="#2a2a2a" stroke-width="0.9"/>
<path d="M658,527 C655,535 656,542 664,545" fill="none" stroke="#2a2a2a" stroke-width="0.8"/>
<text x="604" y="534" font-size="11" text-anchor="start" textLength="28" lengthAdjust="spacingAndGlyphs" fill="#2a2a2a" stroke="#2a2a2a" stroke-width="0">MECH.</text>
<line x1="604" y1="536" x2="632" y2="536" stroke="#2a2a2a" stroke-width="0.9" stroke-linecap="butt"/>
<text x="603" y="546" font-size="9" text-anchor="start" textLength="38" lengthAdjust="spacingAndGlyphs" fill="#2a2a2a" stroke="#2a2a2a" stroke-width="0.25">7'8" x 4'6"</text>
<text x="667" y="549" font-size="8" text-anchor="start" textLength="25" lengthAdjust="spacingAndGlyphs" fill="#2a2a2a" stroke="#2a2a2a" stroke-width="0.25">FLOOR</text>
<text x="667" y="557.5" font-size="8" text-anchor="start" textLength="25" lengthAdjust="spacingAndGlyphs" fill="#2a2a2a" stroke="#2a2a2a" stroke-width="0.25">DRAIN</text>
<path d="M723,502 L761.3,536.6 L759.3,538.8 L721,504.2 Z" fill="none" stroke="#2a2a2a" stroke-width="0.9"/>
<path d="M761.3,536.6 C752,546 740,550 722.4,549.4" fill="none" stroke="#2a2a2a" stroke-width="0.8"/>
<text x="721" y="545" font-size="11" fill="#2a2a2a" transform="rotate(-15 721 545)" textLength="27" lengthAdjust="spacingAndGlyphs">3<tspan dy="-4" font-size="7.5">0</tspan><tspan dy="4">6</tspan><tspan dy="-4" font-size="7.5">8</tspan></text>
<ellipse cx="776.8" cy="505.5" rx="16.3" ry="8.5" fill="#fff" stroke="#2a2a2a" stroke-width="1.0"/>
<text x="776.8" y="509.82" font-size="12" text-anchor="middle" textLength="22" lengthAdjust="spacingAndGlyphs" fill="#2a2a2a" stroke="#2a2a2a" stroke-width="0">W6</text>
<path d="M759,503 C752,498 745,492 735,485" fill="none" stroke="#2a2a2a" stroke-width="0.9"/>
<ellipse cx="823.5" cy="528.2" rx="16.3" ry="8.5" fill="#fff" stroke="#2a2a2a" stroke-width="1.0"/>
<text x="823.5" y="532.5200000000001" font-size="12" text-anchor="middle" textLength="22" lengthAdjust="spacingAndGlyphs" fill="#2a2a2a" stroke="#2a2a2a" stroke-width="0">W6</text>
<path d="M841,527 C848,532 852,542 856,555" fill="none" stroke="#2a2a2a" stroke-width="0.9"/>
<path d="M841,527 C855,530 865,560 880,585" fill="none" stroke="#2a2a2a" stroke-width="0.9"/>
<path d="M800.9,478.7 L815.7,432 L818.3,432.8 L803.5,479.5 Z" fill="none" stroke="#2a2a2a" stroke-width="0.9"/>
<path d="M815.7,432 C835,438 848,455 851.8,479.4" fill="none" stroke="#2a2a2a" stroke-width="0.8"/>
<text x="811" y="466" font-size="11" fill="#2a2a2a" transform="rotate(-10 811 466)" textLength="27" lengthAdjust="spacingAndGlyphs">3<tspan dy="-4" font-size="7.5">0</tspan><tspan dy="4">6</tspan><tspan dy="-4" font-size="7.5">8</tspan></text>
<text x="805" y="478.7" font-size="9.5" text-anchor="start" textLength="51.7" lengthAdjust="spacingAndGlyphs" fill="#2a2a2a" stroke="#2a2a2a" stroke-width="0.25">ENG. LINTEL</text>
<rect x="799.5" y="480" width="5" height="6" fill="#fff" stroke="#2a2a2a" stroke-width="0.9"/>
<rect x="849" y="480" width="5" height="6" fill="#fff" stroke="#2a2a2a" stroke-width="0.9"/>
<line x1="798" y1="489.6" x2="852" y2="489.6" stroke="#2a2a2a" stroke-width="0.9" stroke-linecap="butt"/>
<rect x="854.6" y="478.5" width="17.699999999999932" height="8.0" fill="url(#h1)" stroke="#2a2a2a" stroke-width="1"/>
<rect x="872.3" y="480" width="5" height="5" fill="#fff" stroke="#2a2a2a" stroke-width="0.9"/>
<rect x="833" y="397.5" width="118" height="21.5" fill="none" stroke="#2a2a2a" stroke-width="1.0"/>
<text x="892" y="406.5" font-size="8" text-anchor="middle" textLength="110" lengthAdjust="spacingAndGlyphs" font-weight="bold" fill="#2a2a2a" stroke="#2a2a2a" stroke-width="0.25">20 MINUTE (MIN) FIRE RATED</text>
<text x="892" y="415.5" font-size="8" text-anchor="middle" textLength="84" lengthAdjust="spacingAndGlyphs" font-weight="bold" fill="#2a2a2a" stroke="#2a2a2a" stroke-width="0.25">AS PER 9.10.13.3. BCBC</text>
<path d="M833,409 C815,409 812,420 812,440" fill="none" stroke="#2a2a2a" stroke-width="0.9"/>
<rect x="856.6" y="486.8" width="8.299999999999955" height="189.8" fill="#acacac" stroke="#333" stroke-width="1.2"/>
<rect x="864.9" y="520" width="61.80000000000007" height="5.2000000000000455" fill="#acacac" stroke="#333" stroke-width="1.2"/>
<rect x="926.7" y="478.5" width="4.599999999999909" height="56.5" fill="#acacac" stroke="#333" stroke-width="1.2"/>
<rect x="920" y="478.5" width="10" height="10" fill="#fff" stroke="#2a2a2a" stroke-width="1.0"/>
<line x1="920" y1="478.5" x2="930" y2="488.5" stroke="#2a2a2a" stroke-width="0.8" stroke-linecap="butt"/>
<line x1="930" y1="478.5" x2="920" y2="488.5" stroke="#2a2a2a" stroke-width="0.8" stroke-linecap="butt"/>
<line x1="865" y1="498" x2="926" y2="498" stroke="#2a2a2a" stroke-width="0.9" stroke-linecap="butt"/>
<line x1="865" y1="505.2" x2="926" y2="505.2" stroke="#2a2a2a" stroke-width="2.0" stroke-dasharray="8,5" stroke-linecap="butt"/>
<path d="M916.2,479.2 L886.8,449.8 L884.6,452 L914,481.4 Z" fill="none" stroke="#2a2a2a" stroke-width="0.9"/>
<path d="M886.8,449.8 C877,458 874,470 874.7,483" fill="none" stroke="#2a2a2a" stroke-width="0.8"/>
<text x="880" y="488" font-size="11" fill="#2a2a2a" transform="rotate(-15 880 488)" textLength="27" lengthAdjust="spacingAndGlyphs">2<tspan dy="-4" font-size="7.5">6</tspan><tspan dy="4">6</tspan><tspan dy="-4" font-size="7.5">8</tspan></text>
<text x="874" y="493.5" font-size="9.5" text-anchor="start" textLength="49.7" lengthAdjust="spacingAndGlyphs" fill="#2a2a2a" stroke="#2a2a2a" stroke-width="0.25">ENG. LINTEL</text>
<rect x="872" y="480" width="4" height="5" fill="#fff" stroke="#2a2a2a" stroke-width="0.9"/>
<rect x="914" y="480" width="4" height="5" fill="#fff" stroke="#2a2a2a" stroke-width="0.9"/>
<line x1="929" y1="440" x2="929" y2="478" stroke="#2a2a2a" stroke-width="1.0" stroke-linecap="butt"/>
<line x1="932" y1="440" x2="932" y2="478" stroke="#2a2a2a" stroke-width="1.0" stroke-linecap="butt"/>
<line x1="927.0" y1="458.5" x2="934.0" y2="451.5" stroke="#2a2a2a" stroke-width="1.6" stroke-linecap="butt"/>
<line x1="927.0" y1="462.5" x2="934.0" y2="455.5" stroke="#2a2a2a" stroke-width="1.6" stroke-linecap="butt"/>
<text x="925" y="451" font-size="8" text-anchor="middle" textLength="6" lengthAdjust="spacingAndGlyphs" fill="#2a2a2a" stroke="#2a2a2a" stroke-width="0.25">2"</text>
<text x="970" y="461.0" font-size="7.2" text-anchor="start" textLength="37.4" lengthAdjust="spacingAndGlyphs" fill="#2a2a2a" stroke="#2a2a2a" stroke-width="0.25">ENG. DES.</text>
<text x="970" y="469.4" font-size="7.2" text-anchor="start" textLength="35" lengthAdjust="spacingAndGlyphs" fill="#2a2a2a" stroke="#2a2a2a" stroke-width="0.25">B.U. COL.</text>
<path d="M966,462 C950,462 945,478 931,480" fill="none" stroke="#2a2a2a" stroke-width="0.9"/>
<line x1="931" y1="510" x2="1016" y2="510" stroke="#2a2a2a" stroke-width="2.0" stroke-dasharray="14,8" stroke-linecap="butt"/>
<text x="939.5" y="491.3" font-size="7.2" text-anchor="start" textLength="37.8" lengthAdjust="spacingAndGlyphs" fill="#2a2a2a" stroke="#2a2a2a" stroke-width="0.25">ENG. DES.</text>
<text x="939.5" y="499.6" font-size="7.2" text-anchor="start" textLength="29" lengthAdjust="spacingAndGlyphs" fill="#2a2a2a" stroke="#2a2a2a" stroke-width="0.25">DP. BM.</text>
<path d="M979,494 C986,497 988,505 993,510" fill="none" stroke="#2a2a2a" stroke-width="0.9"/>
<rect x="875.4" y="535.3" width="36.2" height="34.7" fill="none" stroke="#2a2a2a" stroke-width="1.0"/>
<rect x="898.8" y="540.3" width="7.6" height="24.9" fill="none" stroke="#2a2a2a" stroke-width="0.9"/>
<line x1="898" y1="535.3" x2="898" y2="570" stroke="#2a2a2a" stroke-width="0.9" stroke-linecap="butt"/>
<text x="974.2" y="534.3" font-size="7.2" text-anchor="start" textLength="37" lengthAdjust="spacingAndGlyphs" fill="#2a2a2a" stroke="#2a2a2a" stroke-width="0.25">STACKED</text>
<text x="974.2" y="542.5" font-size="7.2" text-anchor="start" textLength="25" lengthAdjust="spacingAndGlyphs" fill="#2a2a2a" stroke="#2a2a2a" stroke-width="0.25">W. &amp; D.</text>
<text x="974.2" y="550.6999999999999" font-size="7.2" text-anchor="start" textLength="33" lengthAdjust="spacingAndGlyphs" fill="#2a2a2a" stroke="#2a2a2a" stroke-width="0.25">VENT TO</text>
<text x="974.2" y="558.9" font-size="7.2" text-anchor="start" textLength="33" lengthAdjust="spacingAndGlyphs" fill="#2a2a2a" stroke="#2a2a2a" stroke-width="0.25">OUTSIDE</text>
<path d="M972,544 L888,556" fill="none" stroke="#2a2a2a" stroke-width="0.9"/>
<text x="939.5" y="543" font-size="9.5" text-anchor="middle" textLength="50" lengthAdjust="spacingAndGlyphs" transform="rotate(-90 939.5 543)" fill="#2a2a2a" stroke="#2a2a2a" stroke-width="0.25">ENG. LINTEL</text>
<line x1="929" y1="535" x2="929" y2="580" stroke="#2a2a2a" stroke-width="2.0" stroke-dasharray="8,5" stroke-linecap="butt"/>
<path d="M938.8,534.3 C960,540 974,560 976.5,578" fill="none" stroke="#2a2a2a" stroke-width="0.8"/>
<line x1="931" y1="578" x2="976.5" y2="578" stroke="#2a2a2a" stroke-width="0.9" stroke-linecap="butt"/>
<line x1="931" y1="580.5" x2="976.5" y2="580.5" stroke="#2a2a2a" stroke-width="0.9" stroke-linecap="butt"/>
<text x="942" y="573" font-size="11" fill="#2a2a2a" transform="rotate(-15 942 573)" textLength="26" lengthAdjust="spacingAndGlyphs">2<tspan dy="-4" font-size="7.5">8</tspan><tspan dy="4">6</tspan><tspan dy="-4" font-size="7.5">8</tspan></text>
<line x1="851.8" y1="489" x2="851.8" y2="530" stroke="#2a2a2a" stroke-width="1.0" stroke-linecap="butt"/>
<line x1="847.8" y1="531.5" x2="855.8" y2="523.5" stroke="#2a2a2a" stroke-width="1.6" stroke-linecap="butt"/>
<text x="845" y="506" font-size="9" text-anchor="middle" textLength="18" lengthAdjust="spacingAndGlyphs" transform="rotate(-90 845 506)" fill="#2a2a2a" stroke="#2a2a2a" stroke-width="0.25">2'-4"</text>
<text x="764.8" y="539.5" font-size="7.2" text-anchor="start" textLength="39" lengthAdjust="spacingAndGlyphs" fill="#2a2a2a" stroke="#2a2a2a" stroke-width="0.25">ENG. DES.</text>
<text x="764.8" y="546.5" font-size="7.2" text-anchor="start" textLength="28" lengthAdjust="spacingAndGlyphs" fill="#2a2a2a" stroke="#2a2a2a" stroke-width="0.25">FL. BM.</text>
<path d="M806,541 C820,545 830,560 840,573" fill="none" stroke="#2a2a2a" stroke-width="0.9"/>
<line x1="839" y1="575" x2="1000" y2="575" stroke="#2a2a2a" stroke-width="2.0" stroke-dasharray="14,7" stroke-linecap="butt"/>
<rect x="788.4" y="562" width="6.899999999999977" height="86" fill="#acacac" stroke="#333" stroke-width="1.2"/>
<rect x="782.5" y="561.8" width="12.8" height="4.9" fill="#acacac" stroke="#2a2a2a" stroke-width="0.9"/>
<rect x="789.4" y="569.7" width="6" height="6" fill="#fff" stroke="#2a2a2a" stroke-width="1.0"/>
<line x1="789.4" y1="569.7" x2="795.4" y2="575.7" stroke="#2a2a2a" stroke-width="0.8" stroke-linecap="butt"/>
<line x1="795.4" y1="569.7" x2="789.4" y2="575.7" stroke="#2a2a2a" stroke-width="0.8" stroke-linecap="butt"/>
<rect x="748.8" y="648" width="46.5" height="4.7999999999999545" fill="#acacac" stroke="#333" stroke-width="1.2"/>
<rect x="748.8" y="652.8" width="6" height="4" fill="#fff" stroke="#2a2a2a" stroke-width="0.9"/>
<rect x="789" y="705" width="6.3" height="6.3" fill="#fff" stroke="#2a2a2a" stroke-width="1.0"/>
<line x1="789" y1="705" x2="795.3" y2="711.3" stroke="#2a2a2a" stroke-width="0.8" stroke-linecap="butt"/>
<line x1="795.3" y1="705" x2="789" y2="711.3" stroke="#2a2a2a" stroke-width="0.8" stroke-linecap="butt"/>
<rect x="789" y="714" width="6.2999999999999545" height="20" fill="url(#h1)" stroke="#2a2a2a" stroke-width="1"/>
<line x1="788.4" y1="653" x2="788.4" y2="705" stroke="#2a2a2a" stroke-width="0.8" stroke-dasharray="4,2" stroke-linecap="butt"/>
<line x1="795.3" y1="653" x2="795.3" y2="705" stroke="#2a2a2a" stroke-width="0.8" stroke-dasharray="4,2" stroke-linecap="butt"/>
<line x1="791.8" y1="659" x2="791.8" y2="708" stroke="#2a2a2a" stroke-width="2.2" stroke-linecap="butt"/>
<line x1="795.3" y1="578.6" x2="856.6" y2="578.6" stroke="#2a2a2a" stroke-width="1.0" stroke-linecap="butt"/>
<line x1="795.3" y1="592.5" x2="856.6" y2="592.5" stroke="#2a2a2a" stroke-width="1.0" stroke-linecap="butt"/>
<line x1="795.3" y1="606.3" x2="856.6" y2="606.3" stroke="#2a2a2a" stroke-width="1.0" stroke-linecap="butt"/>
<line x1="795.3" y1="620.2" x2="856.6" y2="620.2" stroke="#2a2a2a" stroke-width="1.0" stroke-linecap="butt"/>
<line x1="795.3" y1="634" x2="856.6" y2="634" stroke="#2a2a2a" stroke-width="1.0" stroke-linecap="butt"/>
<line x1="795.3" y1="647.9" x2="856.6" y2="647.9" stroke="#2a2a2a" stroke-width="1.0" stroke-linecap="butt"/>
<line x1="795.3" y1="661.1" x2="856.6" y2="661.1" stroke="#2a2a2a" stroke-width="1.0" stroke-linecap="butt"/>
<line x1="795.3" y1="675.2" x2="1000" y2="675.2" stroke="#2a2a2a" stroke-width="1.0" stroke-dasharray="7,4" stroke-linecap="butt"/>
<line x1="811.2" y1="570" x2="811.2" y2="680" stroke="#2a2a2a" stroke-width="1.0" stroke-linecap="butt"/>
<line x1="807.2" y1="578" x2="815.2" y2="570" stroke="#2a2a2a" stroke-width="1.6" stroke-linecap="butt"/>
<line x1="807.2" y1="679" x2="815.2" y2="671" stroke="#2a2a2a" stroke-width="1.6" stroke-linecap="butt"/>
<text x="803.2" y="627" font-size="9" text-anchor="middle" textLength="22" lengthAdjust="spacingAndGlyphs" transform="rotate(-90 803.2 627)" fill="#2a2a2a" stroke="#2a2a2a" stroke-width="0.25">5'-10"</text>
<line x1="826" y1="570" x2="826" y2="660" stroke="#2a2a2a" stroke-width="1.0" stroke-linecap="butt"/>
<polyline points="818,650 826,660 834,650" fill="none" stroke="#2a2a2a" stroke-width="1.2"/>
<text x="821" y="618" font-size="11" text-anchor="middle" textLength="72" lengthAdjust="spacingAndGlyphs" transform="rotate(-90 821 618)" fill="#2a2a2a" stroke="#2a2a2a" stroke-width="0">16 EQ. RISERS</text>
<text x="829" y="566" font-size="9" text-anchor="middle" textLength="11" lengthAdjust="spacingAndGlyphs" transform="rotate(-90 829 566)" fill="#2a2a2a" stroke="#2a2a2a" stroke-width="0.25">UP</text>
<text x="806" y="563" font-size="8" text-anchor="middle" textLength="7" lengthAdjust="spacingAndGlyphs" transform="rotate(-90 806 563)" fill="#2a2a2a" stroke="#2a2a2a" stroke-width="0.25">8"</text>
<path d="M781,661 L826,671 L831,664 L826,676 L865,676" fill="none" stroke="#2a2a2a" stroke-width="0.9"/>
<rect x="864.6" y="586.5" width="66.39999999999998" height="7.899999999999977" fill="#acacac" stroke="#333" stroke-width="1.2"/>
<rect x="924" y="594.4" width="7" height="80.20000000000005" fill="#acacac" stroke="#333" stroke-width="1.2"/>
<rect x="924" y="674.6" width="7" height="30.399999999999977" fill="url(#h1)" stroke="#2a2a2a" stroke-width="1"/>
<rect x="924" y="705" width="7" height="7" fill="#fff" stroke="#2a2a2a" stroke-width="1.0"/>
<line x1="924" y1="705" x2="931" y2="712" stroke="#2a2a2a" stroke-width="0.8" stroke-linecap="butt"/>
<line x1="931" y1="705" x2="924" y2="712" stroke="#2a2a2a" stroke-width="0.8" stroke-linecap="butt"/>
<rect x="924" y="714" width="7" height="20" fill="url(#h1)" stroke="#2a2a2a" stroke-width="1"/>
<line x1="865" y1="606.3" x2="924" y2="606.3" stroke="#2a2a2a" stroke-width="0.9" stroke-dasharray="7,4" stroke-linecap="butt"/>
<line x1="865" y1="620.2" x2="924" y2="620.2" stroke="#2a2a2a" stroke-width="0.9" stroke-dasharray="7,4" stroke-linecap="butt"/>
<line x1="865" y1="634" x2="924" y2="634" stroke="#2a2a2a" stroke-width="0.9" stroke-dasharray="7,4" stroke-linecap="butt"/>
<line x1="865" y1="647.9" x2="924" y2="647.9" stroke="#2a2a2a" stroke-width="0.9" stroke-dasharray="7,4" stroke-linecap="butt"/>
<line x1="865" y1="661.1" x2="924" y2="661.1" stroke="#2a2a2a" stroke-width="0.9" stroke-dasharray="7,4" stroke-linecap="butt"/>
<line x1="872.5" y1="600" x2="872.5" y2="655" stroke="#2a2a2a" stroke-width="0.9" stroke-linecap="butt"/>
<line x1="869.5" y1="609.3" x2="875.5" y2="603.3" stroke="#2a2a2a" stroke-width="1.6" stroke-linecap="butt"/>
<line x1="869.5" y1="623.2" x2="875.5" y2="617.2" stroke="#2a2a2a" stroke-width="1.6" stroke-linecap="butt"/>
<line x1="869.5" y1="637" x2="875.5" y2="631" stroke="#2a2a2a" stroke-width="1.6" stroke-linecap="butt"/>
<line x1="869.5" y1="650.9" x2="875.5" y2="644.9" stroke="#2a2a2a" stroke-width="1.6" stroke-linecap="butt"/>
<text x="867" y="618" font-size="8" text-anchor="middle" textLength="20" lengthAdjust="spacingAndGlyphs" transform="rotate(-90 867 618)" fill="#2a2a2a" stroke="#2a2a2a" stroke-width="0.25">0'-10"</text>
<text x="867" y="640" font-size="8" text-anchor="middle" textLength="20" lengthAdjust="spacingAndGlyphs" transform="rotate(-90 867 640)" fill="#2a2a2a" stroke="#2a2a2a" stroke-width="0.25">0'-10"</text>
<line x1="911.1" y1="578" x2="911.1" y2="750" stroke="#2a2a2a" stroke-width="1.0" stroke-linecap="butt"/>
<line x1="907.1" y1="598.4" x2="915.1" y2="590.4" stroke="#2a2a2a" stroke-width="1.6" stroke-linecap="butt"/>
<line x1="907.1" y1="679.2" x2="915.1" y2="671.2" stroke="#2a2a2a" stroke-width="1.6" stroke-linecap="butt"/>
<line x1="907.1" y1="745" x2="915.1" y2="737" stroke="#2a2a2a" stroke-width="1.6" stroke-linecap="butt"/>
<text x="905" y="635" font-size="9" text-anchor="middle" textLength="22" lengthAdjust="spacingAndGlyphs" transform="rotate(-90 905 635)" fill="#2a2a2a" stroke="#2a2a2a" stroke-width="0.25">4'-10"</text>
<text x="905" y="714" font-size="9" text-anchor="middle" textLength="18" lengthAdjust="spacingAndGlyphs" transform="rotate(-90 905 714)" fill="#2a2a2a" stroke="#2a2a2a" stroke-width="0.25">4'-8"</text>
<text x="862" y="694" font-size="9" text-anchor="middle" textLength="43" lengthAdjust="spacingAndGlyphs" fill="#2a2a2a" stroke="#2a2a2a" stroke-width="0.25">STORAGE</text>
<text x="862" y="706" font-size="9" text-anchor="middle" textLength="30" lengthAdjust="spacingAndGlyphs" fill="#2a2a2a" stroke="#2a2a2a" stroke-width="0.25">UNDER</text>
<text x="862" y="715.5" font-size="9" text-anchor="middle" textLength="33" lengthAdjust="spacingAndGlyphs" fill="#2a2a2a" stroke="#2a2a2a" stroke-width="0.25">STAIRS</text>
<line x1="770.6" y1="653" x2="770.6" y2="733" stroke="#2a2a2a" stroke-width="2.0" stroke-dasharray="7,4" stroke-linecap="butt"/>
<line x1="765.6" y1="656" x2="765.6" y2="733" stroke="#2a2a2a" stroke-width="0.9" stroke-linecap="butt"/>
<polyline points="752,660.3 725.7,684" fill="none" stroke="#2a2a2a" stroke-width="4.0"/>
<polyline points="752,660.3 725.7,684" fill="none" stroke="#fff" stroke-width="1.5999999999999999"/>
<polyline points="725.7,702.9 752,725.1" fill="none" stroke="#2a2a2a" stroke-width="4.0"/>
<polyline points="725.7,702.9 752,725.1" fill="none" stroke="#fff" stroke-width="1.5999999999999999"/>
<path d="M725.7,684 C732,690 738,693.5 746.5,693.5" fill="none" stroke="#2a2a2a" stroke-width="0.8"/>
<path d="M725.7,703 C732,697 738,693.5 746.5,693.5" fill="none" stroke="#2a2a2a" stroke-width="0.8"/>
<rect x="748.5" y="725" width="6.0" height="8" fill="#acacac" stroke="#333" stroke-width="1.2"/>
<rect x="749" y="657.8" width="5" height="4.5" fill="#fff" stroke="#2a2a2a" stroke-width="0.9"/>
<text x="763" y="716" font-size="11" fill="#2a2a2a" transform="rotate(-90 763 716)" textLength="38" lengthAdjust="spacingAndGlyphs">2-2<tspan dy="-4" font-size="7.5">0</tspan><tspan dy="4">6</tspan><tspan dy="-4" font-size="7.5">8</tspan></text>
<rect x="777.5" y="563" width="2.8" height="48" fill="#fff" stroke="#2a2a2a" stroke-width="0.8"/>
<path d="M737,567 A40.5,40.5 0 0,0 777.5,607.5" fill="none" stroke="#2a2a2a" stroke-width="0.8"/>
<text x="770" y="598" font-size="11" fill="#2a2a2a" transform="rotate(-90 770 598)" textLength="27" lengthAdjust="spacingAndGlyphs">2<tspan dy="-4" font-size="7.5">8</tspan><tspan dy="4">6</tspan><tspan dy="-4" font-size="7.5">8</tspan></text>
<rect x="876" y="212.5" width="69" height="20" fill="#fff"/>
<rect x="876" y="212.5" width="69" height="19.6" fill="none" stroke="#2a2a2a" stroke-width="1.0"/>
<line x1="876" y1="224.4" x2="945" y2="224.4" stroke="#2a2a2a" stroke-width="0.9" stroke-linecap="butt"/>
<rect x="880" y="214.5" width="61" height="7" fill="none" stroke="#2a2a2a" stroke-width="0.8"/>
<line x1="882" y1="216.5" x2="914.5" y2="216.5" stroke="#2a2a2a" stroke-width="0.7" stroke-linecap="butt"/>
<line x1="906.5" y1="219.5" x2="939" y2="219.5" stroke="#2a2a2a" stroke-width="0.7" stroke-linecap="butt"/>
<line x1="910.5" y1="214.5" x2="910.5" y2="221.5" stroke="#2a2a2a" stroke-width="0.7" stroke-linecap="butt"/>
<rect x="1051.8" y="212.5" width="66.40000000000009" height="20" fill="#fff"/>
<rect x="1051.8" y="212.5" width="66.40000000000009" height="19.6" fill="none" stroke="#2a2a2a" stroke-width="1.0"/>
<line x1="1051.8" y1="224.4" x2="1118.2" y2="224.4" stroke="#2a2a2a" stroke-width="0.9" stroke-linecap="butt"/>
<rect x="1055.8" y="214.5" width="58.40000000000009" height="7" fill="none" stroke="#2a2a2a" stroke-width="0.8"/>
<line x1="1057.8" y1="216.5" x2="1089.0" y2="216.5" stroke="#2a2a2a" stroke-width="0.7" stroke-linecap="butt"/>
<line x1="1081.0" y1="219.5" x2="1112.2" y2="219.5" stroke="#2a2a2a" stroke-width="0.7" stroke-linecap="butt"/>
<line x1="1085.0" y1="214.5" x2="1085.0" y2="221.5" stroke="#2a2a2a" stroke-width="0.7" stroke-linecap="butt"/>
<rect x="868" y="170" width="86" height="43" fill="#fff"/>
<rect x="1043" y="170" width="86" height="43" fill="#fff"/>
<line x1="868.75" y1="171" x2="868.75" y2="212.5" stroke="#2a2a2a" stroke-width="1.2" stroke-dasharray="7,3" stroke-linecap="butt"/>
<line x1="953" y1="171" x2="953" y2="212.5" stroke="#2a2a2a" stroke-width="1.2" stroke-dasharray="7,3" stroke-linecap="butt"/>
<line x1="868.75" y1="171" x2="953" y2="171" stroke="#2a2a2a" stroke-width="1.3" stroke-dasharray="7,3" stroke-linecap="butt"/>
<line x1="871.75" y1="174" x2="871.75" y2="212.5" stroke="#2a2a2a" stroke-width="1.0" stroke-dasharray="7,3" stroke-linecap="butt"/>
<line x1="950" y1="174" x2="950" y2="212.5" stroke="#2a2a2a" stroke-width="1.0" stroke-dasharray="7,3" stroke-linecap="butt"/>
<line x1="871.75" y1="174" x2="950" y2="174" stroke="#2a2a2a" stroke-width="1.0" stroke-dasharray="7,3" stroke-linecap="butt"/>
<line x1="1043.75" y1="171" x2="1043.75" y2="212.5" stroke="#2a2a2a" stroke-width="1.2" stroke-dasharray="7,3" stroke-linecap="butt"/>
<line x1="1127.5" y1="171" x2="1127.5" y2="212.5" stroke="#2a2a2a" stroke-width="1.2" stroke-dasharray="7,3" stroke-linecap="butt"/>
<line x1="1043.75" y1="171" x2="1127.5" y2="171" stroke="#2a2a2a" stroke-width="1.3" stroke-dasharray="7,3" stroke-linecap="butt"/>
<line x1="1046.75" y1="174" x2="1046.75" y2="212.5" stroke="#2a2a2a" stroke-width="1.0" stroke-dasharray="7,3" stroke-linecap="butt"/>
<line x1="1124.5" y1="174" x2="1124.5" y2="212.5" stroke="#2a2a2a" stroke-width="1.0" stroke-dasharray="7,3" stroke-linecap="butt"/>
<line x1="1046.75" y1="174" x2="1124.5" y2="174" stroke="#2a2a2a" stroke-width="1.0" stroke-dasharray="7,3" stroke-linecap="butt"/>
<line x1="911.25" y1="156" x2="911.25" y2="213" stroke="#2a2a2a" stroke-width="1.0" stroke-linecap="butt"/>
<line x1="1077" y1="156" x2="1077" y2="213" stroke="#2a2a2a" stroke-width="1.0" stroke-linecap="butt"/>
<text x="876" y="195" font-size="9" text-anchor="start" textLength="51.5" lengthAdjust="spacingAndGlyphs" fill="#2a2a2a" stroke="#2a2a2a" stroke-width="0.25">8'H. HD. HT.</text>
<text x="882.5" y="207.5" font-size="10" fill="#2a2a2a" textLength="47" lengthAdjust="spacingAndGlyphs">4<tspan dy="-4" font-size="7.5">0</tspan><tspan dy="4">3</tspan><tspan dy="-4" font-size="7.5">6</tspan><tspan dy="4"> XO</tspan></text>
<text x="1060" y="192.5" font-size="9" text-anchor="start" textLength="50" lengthAdjust="spacingAndGlyphs" fill="#2a2a2a" stroke="#2a2a2a" stroke-width="0.25">8'H. HD. HT.</text>
<text x="1051" y="202" font-size="10" fill="#2a2a2a" textLength="48" lengthAdjust="spacingAndGlyphs">4<tspan dy="-4" font-size="7.5">0</tspan><tspan dy="4">3</tspan><tspan dy="-4" font-size="7.5">6</tspan><tspan dy="4"> XO</tspan></text>
<line x1="953" y1="173" x2="995" y2="173" stroke="#2a2a2a" stroke-width="1.0" stroke-linecap="butt"/>
<line x1="986" y1="169" x2="986" y2="217" stroke="#2a2a2a" stroke-width="1.0" stroke-linecap="butt"/>
<line x1="982" y1="177" x2="990" y2="169" stroke="#2a2a2a" stroke-width="1.6" stroke-linecap="butt"/>
<line x1="982" y1="217" x2="990" y2="209" stroke="#2a2a2a" stroke-width="1.6" stroke-linecap="butt"/>
<text x="981" y="190" font-size="8" text-anchor="middle" textLength="26" lengthAdjust="spacingAndGlyphs" transform="rotate(-90 981 190)" fill="#2a2a2a" stroke="#2a2a2a" stroke-width="0.25">766mm</text>
<text x="990" y="173" font-size="7" text-anchor="middle" textLength="12" lengthAdjust="spacingAndGlyphs" transform="rotate(-90 990 173)" fill="#2a2a2a" stroke="#2a2a2a" stroke-width="0.25">MIN.</text>
<line x1="1127" y1="173" x2="1160" y2="173" stroke="#2a2a2a" stroke-width="1.0" stroke-linecap="butt"/>
<line x1="1152.5" y1="169" x2="1152.5" y2="217" stroke="#2a2a2a" stroke-width="1.0" stroke-linecap="butt"/>
<line x1="1148.5" y1="177" x2="1156.5" y2="169" stroke="#2a2a2a" stroke-width="1.6" stroke-linecap="butt"/>
<line x1="1148.5" y1="217" x2="1156.5" y2="209" stroke="#2a2a2a" stroke-width="1.6" stroke-linecap="butt"/>
<text x="1148" y="193" font-size="8" text-anchor="middle" textLength="26" lengthAdjust="spacingAndGlyphs" transform="rotate(-90 1148 193)" fill="#2a2a2a" stroke="#2a2a2a" stroke-width="0.25">766mm</text>
<text x="1159" y="192" font-size="7" text-anchor="middle" textLength="14" lengthAdjust="spacingAndGlyphs" transform="rotate(-90 1159 192)" fill="#2a2a2a" stroke="#2a2a2a" stroke-width="0.25">MIN.</text>
<text x="1113.75" y="56.0" font-size="7.5" text-anchor="start" textLength="54" lengthAdjust="spacingAndGlyphs" fill="#2a2a2a" stroke="#2a2a2a" stroke-width="0.25">WINDOW WELL</text>
<text x="1113.75" y="63.9" font-size="7.5" text-anchor="start" textLength="52" lengthAdjust="spacingAndGlyphs" fill="#2a2a2a" stroke="#2a2a2a" stroke-width="0.25">AS REQ.'D c/w</text>
<text x="1113.75" y="71.8" font-size="7.5" text-anchor="start" textLength="66" lengthAdjust="spacingAndGlyphs" fill="#2a2a2a" stroke="#2a2a2a" stroke-width="0.25">DRAIN CONNECTED</text>
<text x="1113.75" y="79.7" font-size="7.5" text-anchor="start" textLength="86" lengthAdjust="spacingAndGlyphs" fill="#2a2a2a" stroke="#2a2a2a" stroke-width="0.25">TO PERIMETER DRAIN</text>
<text x="1113.75" y="87.6" font-size="7.5" text-anchor="start" textLength="19" lengthAdjust="spacingAndGlyphs" fill="#2a2a2a" stroke="#2a2a2a" stroke-width="0.25">TILE.</text>
<path d="M1107,71 C1060,65 1020,55 985,68 C960,80 950,120 936,170" fill="none" stroke="#2a2a2a" stroke-width="0.9"/>
<path d="M1107,71 C1090,74 1080,90 1072,120 C1066,145 1062,160 1059,170" fill="none" stroke="#2a2a2a" stroke-width="0.9"/>
<text x="1268.75" y="175.0" font-size="7.2" text-anchor="start" textLength="78" lengthAdjust="spacingAndGlyphs" fill="#2a2a2a" stroke="#2a2a2a" stroke-width="0.25">10'+/-H X 8"W CONC.</text>
<text x="1268.75" y="182.9" font-size="7.2" text-anchor="start" textLength="54" lengthAdjust="spacingAndGlyphs" fill="#2a2a2a" stroke="#2a2a2a" stroke-width="0.25">FOUND. WALL.</text>
<path d="M1266,178 C1235,180 1210,195 1183,215" fill="none" stroke="#2a2a2a" stroke-width="0.9"/>
<text x="766" y="180.0" font-size="7.2" text-anchor="end" textLength="92" lengthAdjust="spacingAndGlyphs" fill="#2a2a2a" stroke="#2a2a2a" stroke-width="0.25">DROP T.O. CONC. WALL</text>
<text x="766" y="188.2" font-size="7.2" text-anchor="end" textLength="73.5" lengthAdjust="spacingAndGlyphs" fill="#2a2a2a" stroke="#2a2a2a" stroke-width="0.25">2'-0"+/- TO MATCH</text>
<text x="766" y="196.4" font-size="7.2" text-anchor="end" textLength="78.5" lengthAdjust="spacingAndGlyphs" fill="#2a2a2a" stroke="#2a2a2a" stroke-width="0.25">FRONT OF GARAGE</text>
<text x="766" y="204.6" font-size="7.2" text-anchor="end" textLength="36" lengthAdjust="spacingAndGlyphs" fill="#2a2a2a" stroke="#2a2a2a" stroke-width="0.25">FNDN. HT.</text>
<path d="M770,194 C778,196 780,220 781,246" fill="none" stroke="#2a2a2a" stroke-width="0.9"/>
<rect x="1118.6" y="213.5" width="8.3" height="8.3" fill="#fff" stroke="#2a2a2a" stroke-width="1.0"/>
<line x1="1118.6" y1="213.5" x2="1126.8999999999999" y2="221.8" stroke="#2a2a2a" stroke-width="0.8" stroke-linecap="butt"/>
<line x1="1126.8999999999999" y1="213.5" x2="1118.6" y2="221.8" stroke="#2a2a2a" stroke-width="0.8" stroke-linecap="butt"/>
<rect x="1210.5" y="213.5" width="8.3" height="8.3" fill="#fff" stroke="#2a2a2a" stroke-width="1.0"/>
<line x1="1210.5" y1="213.5" x2="1218.8" y2="221.8" stroke="#2a2a2a" stroke-width="0.8" stroke-linecap="butt"/>
<line x1="1218.8" y1="213.5" x2="1210.5" y2="221.8" stroke="#2a2a2a" stroke-width="0.8" stroke-linecap="butt"/>
<circle cx="1041.5" cy="223.8" r="14.5" fill="none" stroke="#2a2a2a" stroke-width="1.0"/>
<text x="1059" y="239.4" font-size="9" text-anchor="start" textLength="36.4" lengthAdjust="spacingAndGlyphs" fill="#2a2a2a" stroke="#2a2a2a" stroke-width="0.25">EGRESS</text>
<rect x="1015.3" y="232" width="5.100000000000023" height="220" fill="#acacac" stroke="#333" stroke-width="1.2"/>
<rect x="1015" y="452" width="5.5" height="4.5" fill="#fff" stroke="#2a2a2a" stroke-width="0.9"/>
<line x1="1041.6" y1="232" x2="1041.6" y2="741" stroke="#2a2a2a" stroke-width="1.0" stroke-linecap="butt"/>
<text x="1036" y="388" font-size="10" text-anchor="middle" textLength="104" lengthAdjust="spacingAndGlyphs" transform="rotate(-90 1036 388)" fill="#2a2a2a" stroke="#2a2a2a" stroke-width="0">ENG. DES. "I" JOISTS</text>
<text x="1047.5" y="389" font-size="10" text-anchor="middle" textLength="80" lengthAdjust="spacingAndGlyphs" transform="rotate(-90 1047.5 389)" fill="#2a2a2a" stroke="#2a2a2a" stroke-width="0">FLOOR SYSTEM</text>
<text x="922" y="352" font-size="15" text-anchor="middle" textLength="130" lengthAdjust="spacingAndGlyphs" fill="#2a2a2a" stroke="#2a2a2a" stroke-width="0">SUITE LIV./DIN.</text>
<line x1="857" y1="355.5" x2="988" y2="355.5" stroke="#2a2a2a" stroke-width="1.0" stroke-linecap="butt"/>
<text x="922" y="365.5" font-size="10" text-anchor="middle" textLength="95" lengthAdjust="spacingAndGlyphs" fill="#2a2a2a" stroke="#2a2a2a" stroke-width="0">12'6"/14'0"x 14'10"</text>
<ellipse cx="925" cy="376.5" rx="22" ry="5.5" fill="#fff" stroke="#2a2a2a" stroke-width="1.0"/>
<text x="925" y="379.56" font-size="8.5" text-anchor="middle" textLength="30" lengthAdjust="spacingAndGlyphs" fill="#2a2a2a" stroke="#2a2a2a" stroke-width="0.25">9' CLG.</text>
<text x="975" y="263.0" font-size="7.2" text-anchor="end" textLength="40" lengthAdjust="spacingAndGlyphs" fill="#2a2a2a" stroke="#2a2a2a" stroke-width="0.25">HANG JST.</text>
<text x="975" y="271.2" font-size="7.2" text-anchor="end" textLength="34" lengthAdjust="spacingAndGlyphs" fill="#2a2a2a" stroke="#2a2a2a" stroke-width="0.25">ON WALL</text>
<path d="M977,266 C1000,266 1015,245 1035,237" fill="none" stroke="#2a2a2a" stroke-width="0.9"/>
<circle cx="1035" cy="237" r="1.8" fill="#111"/>
<line x1="1041.6" y1="232" x2="1040" y2="241" stroke="#2a2a2a" stroke-width="1.6" stroke-linecap="butt"/>
<text x="868" y="281.25" font-size="7.2" text-anchor="start" textLength="38" lengthAdjust="spacingAndGlyphs" fill="#2a2a2a" stroke="#2a2a2a" stroke-width="0.25">ENG. DES.</text>
<text x="868" y="289.25" font-size="7.2" text-anchor="start" textLength="35" lengthAdjust="spacingAndGlyphs" fill="#2a2a2a" stroke="#2a2a2a" stroke-width="0.25">B.U. COL.</text>
<path d="M866,285 C840,282 815,265 797,256" fill="none" stroke="#2a2a2a" stroke-width="0.9"/>
<path d="M866,283 C842,280 818,262 792,251" fill="none" stroke="#2a2a2a" stroke-width="0.9"/>
<text x="1126" y="288.1" font-size="14.3" text-anchor="middle" textLength="133" lengthAdjust="spacingAndGlyphs" fill="#2a2a2a" stroke="#2a2a2a" stroke-width="0">SUITE BDRM. #1</text>
<line x1="1060" y1="290.5" x2="1195" y2="290.5" stroke="#2a2a2a" stroke-width="1.0" stroke-linecap="butt"/>
<text x="1121" y="301.6" font-size="10" text-anchor="middle" textLength="61" lengthAdjust="spacingAndGlyphs" fill="#2a2a2a" stroke="#2a2a2a" stroke-width="0">13'0"x 14'2"</text>
<ellipse cx="1122.7" cy="312.6" rx="21.8" ry="5.2" fill="#fff" stroke="#2a2a2a" stroke-width="1.0"/>
<text x="1122.7" y="315.66" font-size="8.5" text-anchor="middle" textLength="30" lengthAdjust="spacingAndGlyphs" fill="#2a2a2a" stroke="#2a2a2a" stroke-width="0.25">9' CLG.</text>
<rect x="1208.4" y="291.2" width="25.9" height="25.3" fill="none" stroke="#2a2a2a" stroke-width="1.0"/>
<rect x="1125.4" y="324" width="108.5" height="82.9" fill="none" stroke="#2a2a2a" stroke-width="1.0" rx="4"/>
<rect x="1209" y="329.6" width="22.2" height="34.2" fill="none" stroke="#2a2a2a" stroke-width="1.0" rx="3"/>
<rect x="1209" y="366.9" width="22.2" height="35.3" fill="none" stroke="#2a2a2a" stroke-width="1.0" rx="3"/>
<polyline points="1187.6,324 1187.6,356.5 1201.5,393.9 1201.5,406.9" fill="none" stroke="#2a2a2a" stroke-width="0.9"/>
<line x1="1187.6" y1="324" x2="1201.5" y2="393.9" stroke="#2a2a2a" stroke-width="0.9" stroke-linecap="butt"/>
<rect x="1208.6" y="414" width="25.4" height="24.5" fill="none" stroke="#2a2a2a" stroke-width="1.0"/>
<path d="M1017,453.3 C1045,455 1062,472 1064.4,497" fill="none" stroke="#2a2a2a" stroke-width="0.8"/>
<rect x="1020" y="495.3" width="44" height="2.6" fill="#fff" stroke="#2a2a2a" stroke-width="0.8"/>
<text x="1012.7" y="490" font-size="11" fill="#2a2a2a" transform="rotate(-15 1012.7 490)" textLength="27" lengthAdjust="spacingAndGlyphs">2<tspan dy="-4" font-size="7.5">8</tspan><tspan dy="4">6</tspan><tspan dy="-4" font-size="7.5">8</tspan></text>
<rect x="1015.3" y="496" width="5.100000000000023" height="30" fill="#acacac" stroke="#333" stroke-width="1.2"/>
<rect x="1014" y="505" width="10" height="11" fill="#fff" stroke="#2a2a2a" stroke-width="0.9"/>
<line x1="1014" y1="505" x2="1024" y2="516" stroke="#2a2a2a" stroke-width="0.6" stroke-linecap="butt"/>
<line x1="1024" y1="505" x2="1014" y2="516" stroke="#2a2a2a" stroke-width="0.6" stroke-linecap="butt"/>
<rect x="1024" y="506.4" width="187.20000000000005" height="8.399999999999977" fill="url(#h1)" stroke="#2a2a2a" stroke-width="1"/>
<rect x="1020" y="523.3" width="44" height="2.6" fill="#fff" stroke="#2a2a2a" stroke-width="0.8"/>
<path d="M1064.4,526 C1062,545 1045,558 1017,559.8" fill="none" stroke="#2a2a2a" stroke-width="0.8"/>
<text x="1015" y="540" font-size="11" fill="#2a2a2a" transform="rotate(-15 1015 540)" textLength="27" lengthAdjust="spacingAndGlyphs">2<tspan dy="-4" font-size="7.5">8</tspan><tspan dy="4">6</tspan><tspan dy="-4" font-size="7.5">8</tspan></text>
<rect x="1015" y="560" width="5.5" height="5" fill="#fff" stroke="#2a2a2a" stroke-width="0.9"/>
<text x="1090.7" y="441.9" font-size="7.2" text-anchor="start" textLength="53.5" lengthAdjust="spacingAndGlyphs" fill="#2a2a2a" stroke="#2a2a2a" stroke-width="0.25">2X6 BEARING</text>
<text x="1090.7" y="449.9" font-size="7.2" text-anchor="start" textLength="21" lengthAdjust="spacingAndGlyphs" fill="#2a2a2a" stroke="#2a2a2a" stroke-width="0.25">WALL</text>
<path d="M1088,444 C1080,446 1078,470 1078,506" fill="none" stroke="#2a2a2a" stroke-width="0.9"/>
<line x1="1057" y1="518" x2="1065" y2="510" stroke="#2a2a2a" stroke-width="1.6" stroke-linecap="butt"/>
<rect x="1095" y="467.3" width="5.900000000000091" height="85.19999999999999" fill="#acacac" stroke="#333" stroke-width="1.2"/>
<rect x="1095" y="467.3" width="13.5" height="4.699999999999989" fill="#acacac" stroke="#333" stroke-width="1.2"/>
<rect x="1104" y="469" width="5" height="5" fill="#fff" stroke="#2a2a2a" stroke-width="0.9"/>
<rect x="1194" y="467.3" width="17.200000000000045" height="4.699999999999989" fill="#acacac" stroke="#333" stroke-width="1.2"/>
<line x1="1101" y1="481.8" x2="1203.5" y2="481.8" stroke="#2a2a2a" stroke-width="0.9" stroke-linecap="butt"/>
<line x1="1101" y1="490" x2="1203.5" y2="490" stroke="#2a2a2a" stroke-width="2.0" stroke-dasharray="8,5" stroke-linecap="butt"/>
<line x1="1101" y1="531" x2="1203.5" y2="531" stroke="#2a2a2a" stroke-width="2.0" stroke-dasharray="8,5" stroke-linecap="butt"/>
<line x1="1101" y1="538.6" x2="1203.5" y2="538.6" stroke="#2a2a2a" stroke-width="0.9" stroke-linecap="butt"/>
<rect x="1095" y="548" width="13.5" height="4.5" fill="#acacac" stroke="#333" stroke-width="1.2"/>
<rect x="1194" y="548" width="17.200000000000045" height="4.5" fill="#acacac" stroke="#333" stroke-width="1.2"/>
<rect x="1024" y="506.4" width="187.20000000000005" height="8.399999999999977" fill="url(#h1)" stroke="#2a2a2a" stroke-width="1"/>
<polyline points="1109.5,469 1125.5,453" fill="none" stroke="#2a2a2a" stroke-width="3.2"/>
<polyline points="1109.5,469 1125.5,453" fill="none" stroke="#fff" stroke-width="1.4"/>
<polyline points="1141.5,469 1125.5,453" fill="none" stroke="#2a2a2a" stroke-width="3.2"/>
<polyline points="1141.5,469 1125.5,453" fill="none" stroke="#fff" stroke-width="1.4"/>
<polyline points="1159.5,469 1175.5,453" fill="none" stroke="#2a2a2a" stroke-width="3.2"/>
<polyline points="1159.5,469 1175.5,453" fill="none" stroke="#fff" stroke-width="1.4"/>
<polyline points="1191.5,469 1175.5,453" fill="none" stroke="#2a2a2a" stroke-width="3.2"/>
<polyline points="1191.5,469 1175.5,453" fill="none" stroke="#fff" stroke-width="1.4"/>
<polyline points="1109.5,551 1125.5,567" fill="none" stroke="#2a2a2a" stroke-width="3.2"/>
<polyline points="1109.5,551 1125.5,567" fill="none" stroke="#fff" stroke-width="1.4"/>
<polyline points="1141.5,551 1125.5,567" fill="none" stroke="#2a2a2a" stroke-width="3.2"/>
<polyline points="1141.5,551 1125.5,567" fill="none" stroke="#fff" stroke-width="1.4"/>
<polyline points="1159.5,551 1175.5,567" fill="none" stroke="#2a2a2a" stroke-width="3.2"/>
<polyline points="1159.5,551 1175.5,567" fill="none" stroke="#fff" stroke-width="1.4"/>
<polyline points="1191.5,551 1175.5,567" fill="none" stroke="#2a2a2a" stroke-width="3.2"/>
<polyline points="1191.5,551 1175.5,567" fill="none" stroke="#fff" stroke-width="1.4"/>
<text x="1112.8" y="480" font-size="11.5" fill="#2a2a2a" textLength="80" lengthAdjust="spacingAndGlyphs">5<tspan dy="-4" font-size="7.5">0</tspan><tspan dy="4">6</tspan><tspan dy="-4" font-size="7.5">8</tspan><tspan dy="4"> BI-FOLD</tspan></text>
<text x="1112.8" y="549.6" font-size="11.5" fill="#2a2a2a" textLength="80" lengthAdjust="spacingAndGlyphs">5<tspan dy="-4" font-size="7.5">0</tspan><tspan dy="4">6</tspan><tspan dy="-4" font-size="7.5">8</tspan><tspan dy="4"> BI-FOLD</tspan></text>
<text x="1144.5" y="427.5" font-size="7.2" text-anchor="start" textLength="38" lengthAdjust="spacingAndGlyphs" fill="#2a2a2a" stroke="#2a2a2a" stroke-width="0.25">ENG. DES.</text>
<text x="1144.5" y="436.0" font-size="7.2" text-anchor="start" textLength="35" lengthAdjust="spacingAndGlyphs" fill="#2a2a2a" stroke="#2a2a2a" stroke-width="0.25">B.U. COL.</text>
<path d="M1186,430 C1200,432 1210,455 1219,480" fill="none" stroke="#2a2a2a" stroke-width="0.9"/>
<rect x="1214.5" y="479.2" width="7.7" height="7.7" fill="#fff" stroke="#2a2a2a" stroke-width="1.0"/>
<line x1="1214.5" y1="479.2" x2="1222.2" y2="486.9" stroke="#2a2a2a" stroke-width="0.8" stroke-linecap="butt"/>
<line x1="1222.2" y1="479.2" x2="1214.5" y2="486.9" stroke="#2a2a2a" stroke-width="0.8" stroke-linecap="butt"/>
<rect x="1214.5" y="501.3" width="7.7" height="7.7" fill="#fff" stroke="#2a2a2a" stroke-width="1.0"/>
<line x1="1214.5" y1="501.3" x2="1222.2" y2="509.0" stroke="#2a2a2a" stroke-width="0.8" stroke-linecap="butt"/>
<line x1="1222.2" y1="501.3" x2="1214.5" y2="509.0" stroke="#2a2a2a" stroke-width="0.8" stroke-linecap="butt"/>
<rect x="1247.6" y="470" width="7.7" height="7.7" fill="#fff" stroke="#2a2a2a" stroke-width="1.0"/>
<line x1="1247.6" y1="470" x2="1255.3" y2="477.7" stroke="#2a2a2a" stroke-width="0.8" stroke-linecap="butt"/>
<line x1="1255.3" y1="470" x2="1247.6" y2="477.7" stroke="#2a2a2a" stroke-width="0.8" stroke-linecap="butt"/>
<rect x="923.8" y="675" width="7.5" height="0" fill="#acacac" stroke="#333" stroke-width="1.2"/>
<rect x="931.3" y="587.3" width="33.90000000000009" height="4.7000000000000455" fill="#acacac" stroke="#333" stroke-width="1.2"/>
<rect x="965.2" y="587.3" width="5" height="4.7" fill="#fff" stroke="#2a2a2a" stroke-width="0.9"/>
<rect x="1014.2" y="588.3" width="5.699999999999932" height="145.70000000000005" fill="#acacac" stroke="#333" stroke-width="1.2"/>
<rect x="1015" y="564" width="5" height="12" fill="#acacac" stroke="#333" stroke-width="1.2"/>
<rect x="1015" y="576" width="5" height="12" fill="#fff" stroke="#2a2a2a" stroke-width="0.9"/>
<rect x="1006.7" y="587.3" width="7.3" height="4.7" fill="#fff" stroke="#2a2a2a" stroke-width="0.9"/>
<rect x="1005.8" y="592" width="2.8" height="41.5" fill="#fff" stroke="#2a2a2a" stroke-width="0.8"/>
<path d="M967.1,590.2 C968,615 985,633 1006,633.5" fill="none" stroke="#2a2a2a" stroke-width="0.8"/>
<text x="1001" y="622" font-size="11" fill="#2a2a2a" transform="rotate(-90 1001 622)" textLength="27" lengthAdjust="spacingAndGlyphs">2<tspan dy="-4" font-size="7.5">6</tspan><tspan dy="4">6</tspan><tspan dy="-4" font-size="7.5">8</tspan></text>
<rect x="932.3" y="593" width="30.1" height="49" fill="none" stroke="#2a2a2a" stroke-width="1.0"/>
<ellipse cx="946.8" cy="616" rx="11.3" ry="12.3" fill="none" stroke="#2a2a2a" stroke-width="1"/>
<ellipse cx="946.8" cy="616" rx="9.3" ry="10.3" fill="none" stroke="#2a2a2a" stroke-width="0.8"/>
<circle cx="946.8" cy="616" r="1" fill="#2a2a2a"/>
<text x="990" y="643.9" font-size="10.5" text-anchor="middle" textLength="29.2" lengthAdjust="spacingAndGlyphs" fill="#2a2a2a" stroke="#2a2a2a" stroke-width="0">BATH</text>
<line x1="975.6" y1="645.8" x2="1004.8" y2="645.8" stroke="#2a2a2a" stroke-width="0.9" stroke-linecap="butt"/>
<text x="989.8" y="653.3" font-size="9.5" text-anchor="middle" textLength="47" lengthAdjust="spacingAndGlyphs" fill="#2a2a2a" stroke="#2a2a2a" stroke-width="0.25">8'6" x 5'0"</text>
<rect x="933.2" y="651.4" width="12.2" height="28.3" fill="none" stroke="#2a2a2a" stroke-width="1.0" rx="3"/>
<circle cx="958.6" cy="665.5" r="11.5" fill="none" stroke="#2a2a2a" stroke-width="1.0"/>
<circle cx="958.6" cy="665.5" r="8.5" fill="none" stroke="#2a2a2a" stroke-width="0.8"/>
<path d="M952,665 C955,660 957,660 958.6,665.5 C960,671 962,671 965,666" fill="none" stroke="#2a2a2a" stroke-width="0.8"/>
<ellipse cx="991.6" cy="665.5" rx="21.7" ry="5.7" fill="#fff" stroke="#2a2a2a" stroke-width="1.0"/>
<text x="991.6" y="668.56" font-size="8.5" text-anchor="middle" textLength="30" lengthAdjust="spacingAndGlyphs" fill="#2a2a2a" stroke="#2a2a2a" stroke-width="0.25">9' CLG.</text>
<line x1="931.3" y1="689.1" x2="1014.2" y2="689.1" stroke="#2a2a2a" stroke-width="1.0" stroke-linecap="butt"/>
<rect x="937" y="694.2" width="72.5" height="33.5" fill="none" stroke="#2a2a2a" stroke-width="1.0" rx="10"/>
<text x="971.8" y="703.2" font-size="9" text-anchor="middle" textLength="34" lengthAdjust="spacingAndGlyphs" fill="#2a2a2a" stroke="#2a2a2a" stroke-width="0.25">60"x32"</text>
<text x="971.8" y="712.7" font-size="9" text-anchor="middle" textLength="42" lengthAdjust="spacingAndGlyphs" fill="#2a2a2a" stroke="#2a2a2a" stroke-width="0.25">TUB/SHWR.</text>
<text x="971.8" y="722" font-size="9" text-anchor="middle" textLength="61" lengthAdjust="spacingAndGlyphs" fill="#2a2a2a" stroke="#2a2a2a" stroke-width="0.25">CONFIRM R.O.</text>
<ellipse cx="1089.5" cy="623.6" rx="16.5" ry="8.2" fill="#fff" stroke="#2a2a2a" stroke-width="1.0"/>
<text x="1089.5" y="627.9200000000001" font-size="12" text-anchor="middle" textLength="22" lengthAdjust="spacingAndGlyphs" fill="#2a2a2a" stroke="#2a2a2a" stroke-width="0">W6</text>
<path d="M1073,624 L934,634" fill="none" stroke="#2a2a2a" stroke-width="0.9"/>
<polyline points="938,631 932,634 938,637" fill="none" stroke="#2a2a2a" stroke-width="0.9"/>
<line x1="1014" y1="577.7" x2="1218" y2="577.7" stroke="#2a2a2a" stroke-width="1.0" stroke-linecap="butt"/>
<line x1="1016" y1="581.7" x2="1024" y2="573.7" stroke="#2a2a2a" stroke-width="1.6" stroke-linecap="butt"/>
<line x1="1096" y1="581.7" x2="1104" y2="573.7" stroke="#2a2a2a" stroke-width="1.6" stroke-linecap="butt"/>
<line x1="1208" y1="581.7" x2="1216" y2="573.7" stroke="#2a2a2a" stroke-width="1.6" stroke-linecap="butt"/>
<text x="1062.4" y="573" font-size="9" text-anchor="middle" textLength="22" lengthAdjust="spacingAndGlyphs" fill="#2a2a2a" stroke="#2a2a2a" stroke-width="0.25">4'-10"</text>
<text x="1155.4" y="573" font-size="9" text-anchor="middle" textLength="18" lengthAdjust="spacingAndGlyphs" fill="#2a2a2a" stroke="#2a2a2a" stroke-width="0.25">6'-8"</text>
<line x1="1100" y1="552.5" x2="1100" y2="582" stroke="#2a2a2a" stroke-width="1.0" stroke-linecap="butt"/>
<line x1="1020" y1="592" x2="1070" y2="592" stroke="#2a2a2a" stroke-width="1.0" stroke-linecap="butt"/>
<line x1="1058" y1="596" x2="1066" y2="588" stroke="#2a2a2a" stroke-width="1.6" stroke-linecap="butt"/>
<line x1="1061.3" y1="505" x2="1061.3" y2="741" stroke="#2a2a2a" stroke-width="1.0" stroke-linecap="butt"/>
<line x1="1057.3" y1="745" x2="1065.3" y2="737" stroke="#2a2a2a" stroke-width="1.6" stroke-linecap="butt"/>
<text x="1054" y="673" font-size="9" text-anchor="middle" textLength="18" lengthAdjust="spacingAndGlyphs" transform="rotate(-90 1054 673)" fill="#2a2a2a" stroke="#2a2a2a" stroke-width="0.25">9'-8"</text>
<text x="1055" y="540" font-size="9" text-anchor="middle" textLength="18" lengthAdjust="spacingAndGlyphs" transform="rotate(-90 1055 540)" fill="#2a2a2a" stroke="#2a2a2a" stroke-width="0.25">4'-8"</text>
<text x="1118.4" y="654.2" font-size="14.3" text-anchor="middle" textLength="133" lengthAdjust="spacingAndGlyphs" fill="#2a2a2a" stroke="#2a2a2a" stroke-width="0">SUITE BDRM. #1</text>
<line x1="1052" y1="656.8" x2="1187" y2="656.8" stroke="#2a2a2a" stroke-width="1.0" stroke-linecap="butt"/>
<text x="1117.8" y="668.8" font-size="10" text-anchor="middle" textLength="63.5" lengthAdjust="spacingAndGlyphs" fill="#2a2a2a" stroke="#2a2a2a" stroke-width="0">11'0"x 10'10"</text>
<ellipse cx="1120" cy="679.7" rx="22.4" ry="4.9" fill="#fff" stroke="#2a2a2a" stroke-width="1.0"/>
<text x="1120" y="682.76" font-size="8.5" text-anchor="middle" textLength="30" lengthAdjust="spacingAndGlyphs" fill="#2a2a2a" stroke="#2a2a2a" stroke-width="0.25">9' CLG.</text>
<text x="1089.5" y="710.3" font-size="7.2" text-anchor="start" textLength="40" lengthAdjust="spacingAndGlyphs" fill="#2a2a2a" stroke="#2a2a2a" stroke-width="0.25">HANG JST.</text>
<text x="1089.5" y="717.8" font-size="7.2" text-anchor="start" textLength="34" lengthAdjust="spacingAndGlyphs" fill="#2a2a2a" stroke="#2a2a2a" stroke-width="0.25">ON WALL</text>
<path d="M1087,713 C1070,713 1060,722 1049,729" fill="none" stroke="#2a2a2a" stroke-width="0.9"/>
<circle cx="1049" cy="729" r="1.8" fill="#111"/>
<circle cx="1041.6" cy="741" r="14.1" fill="none" stroke="#2a2a2a" stroke-width="1.0"/>
<line x1="1041.6" y1="733" x2="1040" y2="746" stroke="#2a2a2a" stroke-width="1.6" stroke-linecap="butt"/>
<line x1="1109.4" y1="727.7" x2="1228.6" y2="727.7" stroke="#2a2a2a" stroke-width="1.0" stroke-linecap="butt"/>
<line x1="1111.4" y1="731.7" x2="1119.4" y2="723.7" stroke="#2a2a2a" stroke-width="1.6" stroke-linecap="butt"/>
<line x1="1218.6" y1="731.7" x2="1226.6" y2="723.7" stroke="#2a2a2a" stroke-width="1.6" stroke-linecap="butt"/>
<text x="1168.4" y="722.5" font-size="9" text-anchor="middle" textLength="18" lengthAdjust="spacingAndGlyphs" fill="#2a2a2a" stroke="#2a2a2a" stroke-width="0.25">6'-5"</text>
<line x1="1115.4" y1="727.7" x2="1115.4" y2="748.5" stroke="#2a2a2a" stroke-width="1.0" stroke-linecap="butt"/>
<rect x="1082.4" y="733.5" width="67.09999999999991" height="20" fill="#fff"/>
<rect x="1082.4" y="733.5" width="67.09999999999991" height="8.1" fill="none" stroke="#2a2a2a" stroke-width="1.0"/>
<rect x="1082.4" y="741.6" width="67.09999999999991" height="12.7" fill="none" stroke="#2a2a2a" stroke-width="1.0"/>
<rect x="1086.4" y="744.4" width="59.09999999999991" height="3.5" fill="none" stroke="#2a2a2a" stroke-width="0.8"/>
<line x1="1115.95" y1="744.4" x2="1115.95" y2="748" stroke="#2a2a2a" stroke-width="0.7" stroke-linecap="butt"/>
<rect x="665.3" y="733.5" width="67.5" height="20" fill="#fff"/>
<rect x="665.3" y="733.5" width="67.5" height="8.1" fill="none" stroke="#2a2a2a" stroke-width="1.0"/>
<rect x="665.3" y="741.6" width="67.5" height="12.7" fill="none" stroke="#2a2a2a" stroke-width="1.0"/>
<rect x="669.3" y="744.4" width="59.5" height="3.5" fill="none" stroke="#2a2a2a" stroke-width="0.8"/>
<line x1="699.05" y1="744.4" x2="699.05" y2="748" stroke="#2a2a2a" stroke-width="0.7" stroke-linecap="butt"/>
<text x="666" y="740" font-size="9" text-anchor="start" textLength="35" lengthAdjust="spacingAndGlyphs" fill="#2a2a2a" stroke="#2a2a2a" stroke-width="0.25">EGRESS</text>
<rect x="1214.3" y="714.3" width="8.3" height="8.3" fill="#fff" stroke="#2a2a2a" stroke-width="1.0"/>
<line x1="1214.3" y1="714.3" x2="1222.6" y2="722.5999999999999" stroke="#2a2a2a" stroke-width="0.8" stroke-linecap="butt"/>
<line x1="1222.6" y1="714.3" x2="1214.3" y2="722.5999999999999" stroke="#2a2a2a" stroke-width="0.8" stroke-linecap="butt"/>
<rect x="1214.3" y="745" width="8.3" height="8.3" fill="#fff" stroke="#2a2a2a" stroke-width="1.0"/>
<line x1="1214.3" y1="745" x2="1222.6" y2="753.3" stroke="#2a2a2a" stroke-width="0.8" stroke-linecap="butt"/>
<line x1="1222.6" y1="745" x2="1214.3" y2="753.3" stroke="#2a2a2a" stroke-width="0.8" stroke-linecap="butt"/>
<rect x="1065.4" y="753.5" width="101.79999999999995" height="42.10000000000002" fill="#fff"/>
<line x1="1065.4" y1="752.5" x2="1065.4" y2="795.6" stroke="#2a2a2a" stroke-width="1.3" stroke-dasharray="7,3" stroke-linecap="butt"/>
<line x1="1167.2" y1="752.5" x2="1167.2" y2="795.6" stroke="#2a2a2a" stroke-width="1.3" stroke-dasharray="7,3" stroke-linecap="butt"/>
<line x1="1065.4" y1="795.6" x2="1167.2" y2="795.6" stroke="#2a2a2a" stroke-width="1.3" stroke-dasharray="7,3" stroke-linecap="butt"/>
<line x1="1068.4" y1="752.5" x2="1068.4" y2="792.6" stroke="#2a2a2a" stroke-width="1.0" stroke-dasharray="7,3" stroke-linecap="butt"/>
<line x1="1164.2" y1="752.5" x2="1164.2" y2="792.6" stroke="#2a2a2a" stroke-width="1.0" stroke-dasharray="7,3" stroke-linecap="butt"/>
<line x1="1068.4" y1="792.6" x2="1164.2" y2="792.6" stroke="#2a2a2a" stroke-width="1.0" stroke-dasharray="7,3" stroke-linecap="butt"/>
<rect x="648.4" y="753.5" width="100.39999999999998" height="40.5" fill="#fff"/>
<line x1="648.4" y1="752.5" x2="648.4" y2="794" stroke="#2a2a2a" stroke-width="1.3" stroke-dasharray="7,3" stroke-linecap="butt"/>
<line x1="748.8" y1="752.5" x2="748.8" y2="794" stroke="#2a2a2a" stroke-width="1.3" stroke-dasharray="7,3" stroke-linecap="butt"/>
<line x1="648.4" y1="794" x2="748.8" y2="794" stroke="#2a2a2a" stroke-width="1.3" stroke-dasharray="7,3" stroke-linecap="butt"/>
<line x1="651.4" y1="752.5" x2="651.4" y2="791" stroke="#2a2a2a" stroke-width="1.0" stroke-dasharray="7,3" stroke-linecap="butt"/>
<line x1="745.8" y1="752.5" x2="745.8" y2="791" stroke="#2a2a2a" stroke-width="1.0" stroke-dasharray="7,3" stroke-linecap="butt"/>
<line x1="651.4" y1="791" x2="745.8" y2="791" stroke="#2a2a2a" stroke-width="1.0" stroke-dasharray="7,3" stroke-linecap="butt"/>
<text x="1094.2" y="765" font-size="10" fill="#2a2a2a" textLength="52" lengthAdjust="spacingAndGlyphs">4<tspan dy="-4" font-size="7.5">0</tspan><tspan dy="4">3</tspan><tspan dy="-4" font-size="7.5">6</tspan><tspan dy="4"> XO</tspan></text>
<text x="1094.2" y="774.4" font-size="9" text-anchor="start" textLength="35.3" lengthAdjust="spacingAndGlyphs" fill="#2a2a2a" stroke="#2a2a2a" stroke-width="0.25">EGRESS</text>
<text x="1090.6" y="782.6" font-size="9" text-anchor="start" textLength="50.7" lengthAdjust="spacingAndGlyphs" fill="#2a2a2a" stroke="#2a2a2a" stroke-width="0.25">8'H. HD. HT.</text>
<line x1="1150.7" y1="752" x2="1150.7" y2="800" stroke="#2a2a2a" stroke-width="1.0" stroke-linecap="butt"/>
<line x1="1146.7" y1="756" x2="1154.7" y2="748" stroke="#2a2a2a" stroke-width="1.6" stroke-linecap="butt"/>
<line x1="1146.7" y1="799.6" x2="1154.7" y2="791.6" stroke="#2a2a2a" stroke-width="1.6" stroke-linecap="butt"/>
<text x="1145" y="781.4" font-size="8" text-anchor="middle" textLength="40" lengthAdjust="spacingAndGlyphs" transform="rotate(-90 1145 781.4)" fill="#2a2a2a" stroke="#2a2a2a" stroke-width="0.25">766mm MIN.</text>
<text x="671" y="768.8" font-size="10" fill="#2a2a2a" textLength="48" lengthAdjust="spacingAndGlyphs">4<tspan dy="-4" font-size="7.5">0</tspan><tspan dy="4">3</tspan><tspan dy="-4" font-size="7.5">6</tspan><tspan dy="4"> XO</tspan></text>
<text x="664.4" y="779" font-size="9" text-anchor="start" textLength="50.6" lengthAdjust="spacingAndGlyphs" fill="#2a2a2a" stroke="#2a2a2a" stroke-width="0.25">8'H. HD. HT.</text>
<line x1="733.75" y1="752" x2="733.75" y2="800" stroke="#2a2a2a" stroke-width="1.0" stroke-linecap="butt"/>
<line x1="729.75" y1="756" x2="737.75" y2="748" stroke="#2a2a2a" stroke-width="1.6" stroke-linecap="butt"/>
<line x1="729.75" y1="798" x2="737.75" y2="790" stroke="#2a2a2a" stroke-width="1.6" stroke-linecap="butt"/>
<text x="728" y="785" font-size="8" text-anchor="middle" textLength="40" lengthAdjust="spacingAndGlyphs" transform="rotate(-90 728 785)" fill="#2a2a2a" stroke="#2a2a2a" stroke-width="0.25">766mm MIN.</text>
<text x="595" y="771.0" font-size="7.5" text-anchor="end" textLength="55" lengthAdjust="spacingAndGlyphs" fill="#2a2a2a" stroke="#2a2a2a" stroke-width="0.25">WINDOW WELL</text>
<text x="595" y="779.1" font-size="7.5" text-anchor="end" textLength="55" lengthAdjust="spacingAndGlyphs" fill="#2a2a2a" stroke="#2a2a2a" stroke-width="0.25">AS REQ.'D c/w</text>
<text x="595" y="787.2" font-size="7.5" text-anchor="end" textLength="70" lengthAdjust="spacingAndGlyphs" fill="#2a2a2a" stroke="#2a2a2a" stroke-width="0.25">DRAIN CONNECTED</text>
<text x="595" y="795.3" font-size="7.5" text-anchor="end" textLength="87" lengthAdjust="spacingAndGlyphs" fill="#2a2a2a" stroke="#2a2a2a" stroke-width="0.25">TO PERIMETER DRAIN</text>
<text x="595" y="803.4" font-size="7.5" text-anchor="end" textLength="19" lengthAdjust="spacingAndGlyphs" fill="#2a2a2a" stroke="#2a2a2a" stroke-width="0.25">TILE.</text>
<path d="M597,784 C615,784 630,778 648,775" fill="none" stroke="#2a2a2a" stroke-width="0.9"/>
<polyline points="642,772 648,775 642,778" fill="none" stroke="#2a2a2a" stroke-width="0.9"/>
<text x="1298" y="778.0" font-size="7.5" text-anchor="start" textLength="55" lengthAdjust="spacingAndGlyphs" fill="#2a2a2a" stroke="#2a2a2a" stroke-width="0.25">WINDOW WELL</text>
<text x="1298" y="786.1" font-size="7.5" text-anchor="start" textLength="55" lengthAdjust="spacingAndGlyphs" fill="#2a2a2a" stroke="#2a2a2a" stroke-width="0.25">AS REQ.'D c/w</text>
<text x="1298" y="794.2" font-size="7.5" text-anchor="start" textLength="70" lengthAdjust="spacingAndGlyphs" fill="#2a2a2a" stroke="#2a2a2a" stroke-width="0.25">DRAIN CONNECTED</text>
<text x="1298" y="802.3" font-size="7.5" text-anchor="start" textLength="87" lengthAdjust="spacingAndGlyphs" fill="#2a2a2a" stroke="#2a2a2a" stroke-width="0.25">TO PERIMETER DRAIN</text>
<text x="1298" y="810.4" font-size="7.5" text-anchor="start" textLength="19" lengthAdjust="spacingAndGlyphs" fill="#2a2a2a" stroke="#2a2a2a" stroke-width="0.25">TILE.</text>
<path d="M1296,786 C1260,788 1220,782 1168,773" fill="none" stroke="#2a2a2a" stroke-width="0.9"/>
<polyline points="1174,770 1168,773 1174,777" fill="none" stroke="#2a2a2a" stroke-width="0.9"/>
<text x="1489" y="825.0" font-size="7.2" text-anchor="start" textLength="76" lengthAdjust="spacingAndGlyphs" fill="#2a2a2a" stroke="#2a2a2a" stroke-width="0.25">4/2X6 B.U. COL. ON</text>
<text x="1489" y="833.2" font-size="7.2" text-anchor="start" textLength="76" lengthAdjust="spacingAndGlyphs" fill="#2a2a2a" stroke="#2a2a2a" stroke-width="0.25">12"X12" CONC. COL.</text>
<path d="M1487,825 C1460,822 1450,790 1425,754" fill="none" stroke="#2a2a2a" stroke-width="0.9"/>
<text x="643.5" y="655.5" font-size="15" text-anchor="middle" textLength="88" lengthAdjust="spacingAndGlyphs" fill="#2a2a2a" stroke="#2a2a2a" stroke-width="0">BDRM # 5</text>
<line x1="599.5" y1="659" x2="688" y2="659" stroke="#2a2a2a" stroke-width="1.0" stroke-linecap="butt"/>
<line x1="690" y1="653.75" x2="749" y2="653.75" stroke="#2a2a2a" stroke-width="1.0" stroke-linecap="butt"/>
<text x="643" y="670" font-size="10" text-anchor="middle" textLength="92" lengthAdjust="spacingAndGlyphs" fill="#2a2a2a" stroke="#2a2a2a" stroke-width="0">13'4"x 10'0"/7'10"</text>
<ellipse cx="646" cy="683.5" rx="21.5" ry="5.5" fill="#fff" stroke="#2a2a2a" stroke-width="1.0"/>
<text x="646" y="686.56" font-size="8.5" text-anchor="middle" textLength="30" lengthAdjust="spacingAndGlyphs" fill="#2a2a2a" stroke="#2a2a2a" stroke-width="0.25">9' CLG.</text>
<line x1="699" y1="648" x2="699" y2="830" stroke="#2a2a2a" stroke-width="1.0" stroke-linecap="butt"/>
<line x1="695" y1="657.75" x2="703" y2="649.75" stroke="#2a2a2a" stroke-width="1.6" stroke-linecap="butt"/>
<line x1="695" y1="756" x2="703" y2="748" stroke="#2a2a2a" stroke-width="1.6" stroke-linecap="butt"/>
<text x="693.75" y="702.5" font-size="9" text-anchor="middle" textLength="18" lengthAdjust="spacingAndGlyphs" transform="rotate(-90 693.75 702.5)" fill="#2a2a2a" stroke="#2a2a2a" stroke-width="0.25">6'-0"</text>
<line x1="712" y1="705.4" x2="783" y2="705.4" stroke="#2a2a2a" stroke-width="1.0" stroke-linecap="butt"/>
<line x1="720.6" y1="701.4" x2="720.6" y2="756" stroke="#2a2a2a" stroke-width="1.0" stroke-linecap="butt"/>
<line x1="716.6" y1="709.4" x2="724.6" y2="701.4" stroke="#2a2a2a" stroke-width="1.6" stroke-linecap="butt"/>
<line x1="716.6" y1="756" x2="724.6" y2="748" stroke="#2a2a2a" stroke-width="1.6" stroke-linecap="butt"/>
<text x="712.2" y="728.4" font-size="8.5" text-anchor="middle" textLength="20" lengthAdjust="spacingAndGlyphs" transform="rotate(-90 712.2 728.4)" fill="#2a2a2a" stroke="#2a2a2a" stroke-width="0.25">2'-10"</text>
<line x1="716.6" y1="745" x2="724.6" y2="737" stroke="#2a2a2a" stroke-width="1.6" stroke-linecap="butt"/>
<text x="744" y="618.75" font-size="7.2" text-anchor="end" textLength="59" lengthAdjust="spacingAndGlyphs" fill="#2a2a2a" stroke="#2a2a2a" stroke-width="0.25">STOR. ACCESS,</text>
<text x="744" y="626.25" font-size="7.2" text-anchor="end" textLength="57" lengthAdjust="spacingAndGlyphs" fill="#2a2a2a" stroke="#2a2a2a" stroke-width="0.25">VERIFY ONSITE</text>
<text x="744" y="633.75" font-size="8.5" text-anchor="end" textLength="52" lengthAdjust="spacingAndGlyphs" font-weight="bold" fill="#2a2a2a" stroke="#2a2a2a" stroke-width="0.25">ENG. LINTEL</text>
<path d="M748,620 C765,622 775,645 787,676" fill="none" stroke="#2a2a2a" stroke-width="0.9"/>
<rect x="507.5" y="612" width="8.5" height="8.5" fill="#fff" stroke="#2a2a2a" stroke-width="1.0"/>
<line x1="507.5" y1="612" x2="516.0" y2="620.5" stroke="#2a2a2a" stroke-width="0.8" stroke-linecap="butt"/>
<line x1="516.0" y1="612" x2="507.5" y2="620.5" stroke="#2a2a2a" stroke-width="0.8" stroke-linecap="butt"/>
<rect x="507.5" y="720" width="8.5" height="8.5" fill="#fff" stroke="#2a2a2a" stroke-width="1.0"/>
<line x1="507.5" y1="720" x2="516.0" y2="728.5" stroke="#2a2a2a" stroke-width="0.8" stroke-linecap="butt"/>
<line x1="516.0" y1="720" x2="507.5" y2="728.5" stroke="#2a2a2a" stroke-width="0.8" stroke-linecap="butt"/>
<rect x="507.5" y="741.5" width="8.5" height="8.5" fill="#fff" stroke="#2a2a2a" stroke-width="1.0"/>
<line x1="507.5" y1="741.5" x2="516.0" y2="750.0" stroke="#2a2a2a" stroke-width="0.8" stroke-linecap="butt"/>
<line x1="516.0" y1="741.5" x2="507.5" y2="750.0" stroke="#2a2a2a" stroke-width="0.8" stroke-linecap="butt"/>
<rect x="538" y="741.5" width="8.5" height="8.5" fill="#fff" stroke="#2a2a2a" stroke-width="1.0"/>
<line x1="538" y1="741.5" x2="546.5" y2="750.0" stroke="#2a2a2a" stroke-width="0.8" stroke-linecap="butt"/>
<line x1="546.5" y1="741.5" x2="538" y2="750.0" stroke="#2a2a2a" stroke-width="0.8" stroke-linecap="butt"/>
<rect x="788" y="745.3" width="7.6" height="7.6" fill="#fff" stroke="#2a2a2a" stroke-width="1.0"/>
<line x1="788" y1="745.3" x2="795.6" y2="752.9" stroke="#2a2a2a" stroke-width="0.8" stroke-linecap="butt"/>
<line x1="795.6" y1="745.3" x2="788" y2="752.9" stroke="#2a2a2a" stroke-width="0.8" stroke-linecap="butt"/>
<rect x="923" y="745.3" width="8.6" height="8.6" fill="#fff" stroke="#2a2a2a" stroke-width="1.0"/>
<line x1="923" y1="745.3" x2="931.6" y2="753.9" stroke="#2a2a2a" stroke-width="0.8" stroke-linecap="butt"/>
<line x1="931.6" y1="745.3" x2="923" y2="753.9" stroke="#2a2a2a" stroke-width="0.8" stroke-linecap="butt"/>
<text x="845.3" y="762.2" font-size="7.2" text-anchor="start" textLength="14" lengthAdjust="spacingAndGlyphs" fill="#2a2a2a" stroke="#2a2a2a" stroke-width="0.25">2X6</text>
<text x="845.3" y="769.6" font-size="7.2" text-anchor="start" textLength="35" lengthAdjust="spacingAndGlyphs" fill="#2a2a2a" stroke="#2a2a2a" stroke-width="0.25">BEARING</text>
<text x="845.3" y="777.0" font-size="7.2" text-anchor="start" textLength="20" lengthAdjust="spacingAndGlyphs" fill="#2a2a2a" stroke="#2a2a2a" stroke-width="0.25">WALL</text>
<path d="M843,766 C825,760 812,745 796,729" fill="none" stroke="#2a2a2a" stroke-width="0.9"/>
<path d="M881,767 C900,765 915,745 928,729" fill="none" stroke="#2a2a2a" stroke-width="0.9"/>
<rect x="172" y="576" width="20" height="20" fill="#fff" stroke="#2a2a2a" stroke-width="1.1"/>
<rect x="174.5" y="578.5" width="15" height="15" fill="none" stroke="#2a2a2a" stroke-width="0.9"/>
<line x1="177" y1="581" x2="180.0" y2="584.0" stroke="#777" stroke-width="0.6" stroke-linecap="butt"/>
<line x1="187" y1="581" x2="184.0" y2="584.0" stroke="#777" stroke-width="0.6" stroke-linecap="butt"/>
<line x1="177" y1="591" x2="180.0" y2="588.0" stroke="#777" stroke-width="0.6" stroke-linecap="butt"/>
<line x1="187" y1="591" x2="184.0" y2="588.0" stroke="#777" stroke-width="0.6" stroke-linecap="butt"/>
<line x1="177" y1="581" x2="181" y2="581" stroke="#2a2a2a" stroke-width="0.7" stroke-linecap="butt"/>
<line x1="177" y1="581" x2="177" y2="585" stroke="#2a2a2a" stroke-width="0.7" stroke-linecap="butt"/>
<line x1="187" y1="591" x2="183" y2="591" stroke="#2a2a2a" stroke-width="0.7" stroke-linecap="butt"/>
<line x1="187" y1="591" x2="187" y2="587" stroke="#2a2a2a" stroke-width="0.7" stroke-linecap="butt"/>
<rect x="172" y="734" width="22" height="22" fill="#fff" stroke="#2a2a2a" stroke-width="1.1"/>
<rect x="174.5" y="736.5" width="17" height="17" fill="none" stroke="#2a2a2a" stroke-width="0.9"/>
<line x1="177" y1="739" x2="181.0" y2="743.0" stroke="#777" stroke-width="0.6" stroke-linecap="butt"/>
<line x1="189" y1="739" x2="185.0" y2="743.0" stroke="#777" stroke-width="0.6" stroke-linecap="butt"/>
<line x1="177" y1="751" x2="181.0" y2="747.0" stroke="#777" stroke-width="0.6" stroke-linecap="butt"/>
<line x1="189" y1="751" x2="185.0" y2="747.0" stroke="#777" stroke-width="0.6" stroke-linecap="butt"/>
<line x1="177" y1="739" x2="181" y2="739" stroke="#2a2a2a" stroke-width="0.7" stroke-linecap="butt"/>
<line x1="177" y1="739" x2="177" y2="743" stroke="#2a2a2a" stroke-width="0.7" stroke-linecap="butt"/>
<line x1="189" y1="751" x2="185" y2="751" stroke="#2a2a2a" stroke-width="0.7" stroke-linecap="butt"/>
<line x1="189" y1="751" x2="189" y2="747" stroke="#2a2a2a" stroke-width="0.7" stroke-linecap="butt"/>
<rect x="346.5" y="734" width="22.5" height="22.5" fill="#fff" stroke="#2a2a2a" stroke-width="1.1"/>
<rect x="349.0" y="736.5" width="17.5" height="17.5" fill="none" stroke="#2a2a2a" stroke-width="0.9"/>
<line x1="351.5" y1="739" x2="355.75" y2="743.25" stroke="#777" stroke-width="0.6" stroke-linecap="butt"/>
<line x1="364.0" y1="739" x2="359.75" y2="743.25" stroke="#777" stroke-width="0.6" stroke-linecap="butt"/>
<line x1="351.5" y1="751.5" x2="355.75" y2="747.25" stroke="#777" stroke-width="0.6" stroke-linecap="butt"/>
<line x1="364.0" y1="751.5" x2="359.75" y2="747.25" stroke="#777" stroke-width="0.6" stroke-linecap="butt"/>
<line x1="351.5" y1="739" x2="355.5" y2="739" stroke="#2a2a2a" stroke-width="0.7" stroke-linecap="butt"/>
<line x1="351.5" y1="739" x2="351.5" y2="743" stroke="#2a2a2a" stroke-width="0.7" stroke-linecap="butt"/>
<line x1="364.0" y1="751.5" x2="360.0" y2="751.5" stroke="#2a2a2a" stroke-width="0.7" stroke-linecap="butt"/>
<line x1="364.0" y1="751.5" x2="364.0" y2="747.5" stroke="#2a2a2a" stroke-width="0.7" stroke-linecap="butt"/>
<line x1="175" y1="597" x2="175" y2="734" stroke="#777" stroke-width="0.9" stroke-dasharray="6,4" stroke-linecap="butt"/>
<line x1="366" y1="596" x2="366" y2="734" stroke="#777" stroke-width="0.9" stroke-dasharray="6,4" stroke-linecap="butt"/>
<line x1="194" y1="752" x2="346" y2="752" stroke="#777" stroke-width="0.9" stroke-dasharray="6,4" stroke-linecap="butt"/>
<line x1="369" y1="752" x2="507" y2="752" stroke="#777" stroke-width="0.9" stroke-dasharray="6,4" stroke-linecap="butt"/>
<text x="139" y="635.0" font-size="7.5" text-anchor="end" textLength="49" lengthAdjust="spacingAndGlyphs" fill="#2a2a2a" stroke="#2a2a2a" stroke-width="0.25">16"x16"x12"H</text>
<text x="139" y="643.2" font-size="7.5" text-anchor="end" textLength="45" lengthAdjust="spacingAndGlyphs" fill="#2a2a2a" stroke="#2a2a2a" stroke-width="0.25">CONC. COL.</text>
<text x="139" y="651.4" font-size="7.5" text-anchor="end" textLength="51" lengthAdjust="spacingAndGlyphs" fill="#2a2a2a" stroke="#2a2a2a" stroke-width="0.25">(TYP. FOR 3)</text>
<path d="M141,634 C160,634 168,610 177,591" fill="none" stroke="#2a2a2a" stroke-width="0.9"/>
<text x="277" y="637.5" font-size="7.2" text-anchor="end" textLength="38" lengthAdjust="spacingAndGlyphs" fill="#2a2a2a" stroke="#2a2a2a" stroke-width="0.25">8"W CONC.</text>
<text x="277" y="645.3" font-size="7.2" text-anchor="end" textLength="50" lengthAdjust="spacingAndGlyphs" fill="#2a2a2a" stroke="#2a2a2a" stroke-width="0.25">FROST WALL</text>
<path d="M280,645 C305,648 315,620 333,588" fill="none" stroke="#2a2a2a" stroke-width="0.9"/>
<text x="412.5" y="641.0" font-size="7.2" text-anchor="start" textLength="38" lengthAdjust="spacingAndGlyphs" fill="#2a2a2a" stroke="#2a2a2a" stroke-width="0.25">RAISE T.O.</text>
<text x="412.5" y="649.4" font-size="7.2" text-anchor="start" textLength="82" lengthAdjust="spacingAndGlyphs" fill="#2a2a2a" stroke="#2a2a2a" stroke-width="0.25">CONC. WALL 2'-0"+/-</text>
<text x="412.5" y="657.8" font-size="7.2" text-anchor="start" textLength="85" lengthAdjust="spacingAndGlyphs" fill="#2a2a2a" stroke="#2a2a2a" stroke-width="0.25">RESIDENCE FNDN. HT.</text>
<path d="M410,648 C395,645 385,615 367,598" fill="none" stroke="#2a2a2a" stroke-width="0.9"/>
<text x="452.5" y="695.0" font-size="7.2" text-anchor="end" textLength="78" lengthAdjust="spacingAndGlyphs" fill="#2a2a2a" stroke="#2a2a2a" stroke-width="0.25">10'+/-H X 8"W CONC.</text>
<text x="452.5" y="703.3" font-size="7.2" text-anchor="end" textLength="54" lengthAdjust="spacingAndGlyphs" fill="#2a2a2a" stroke="#2a2a2a" stroke-width="0.25">FOUND. WALL.</text>
<path d="M455,699 C475,699 490,701 509,701" fill="none" stroke="#2a2a2a" stroke-width="0.9"/>
<polyline points="503,698 509,701 503,704" fill="none" stroke="#2a2a2a" stroke-width="0.9"/>
<text x="594" y="997" font-size="17" text-anchor="start" textLength="328.5" lengthAdjust="spacingAndGlyphs" fill="#2a2a2a" stroke="#2a2a2a" stroke-width="0">LOWER FLOOR PLAN 215 SQ. FT.</text>
<line x1="594" y1="999.8" x2="924" y2="999.8" stroke="#2a2a2a" stroke-width="1.1" stroke-linecap="butt"/>
<text x="613" y="1015.5" font-size="9.5" text-anchor="start" textLength="149.5" lengthAdjust="spacingAndGlyphs" fill="#2a2a2a" stroke="#2a2a2a" stroke-width="0.25">SUITE AREA = 904 SQ. FT.</text>
<text x="613" y="1028" font-size="9.5" text-anchor="start" textLength="309" lengthAdjust="spacingAndGlyphs" fill="#2a2a2a" stroke="#2a2a2a" stroke-width="0.25">(INCLUDES SUITE STAIRS &amp; STOR. UNDER MAIN STAIRS)</text>
<text x="613" y="1039.5" font-size="9.5" text-anchor="start" textLength="144.5" lengthAdjust="spacingAndGlyphs" fill="#2a2a2a" stroke="#2a2a2a" stroke-width="0.25">MECH. AREA = 37 SQ. FT.</text>
<rect x="1256.2" y="955" width="181.2" height="39" fill="none" stroke="#2a2a2a" stroke-width="1.0"/>
<text x="1260.8" y="966.8" font-size="9" text-anchor="start" textLength="171" lengthAdjust="spacingAndGlyphs" fill="#2a2a2a" stroke="#2a2a2a" stroke-width="0.25">SUITE FIRE SEPARATION 9.10.9.13:</text>
<line x1="1260.8" y1="968.6" x2="1432" y2="968.6" stroke="#2a2a2a" stroke-width="0.8" stroke-linecap="butt"/>
<text x="1268" y="977" font-size="9" text-anchor="start" fill="#2a2a2a" stroke="#2a2a2a" stroke-width="0.25">-</text>
<text x="1286.3" y="977" font-size="9.5" text-anchor="start" textLength="67.4" lengthAdjust="spacingAndGlyphs" fill="#2a2a2a" stroke="#2a2a2a" stroke-width="0.25">45 MIN. F.R.R.</text>
<text x="1268" y="987.4" font-size="9" text-anchor="start" fill="#2a2a2a" stroke="#2a2a2a" stroke-width="0.25">-</text>
<text x="1286.3" y="987.4" font-size="9.5" text-anchor="start" textLength="102.4" lengthAdjust="spacingAndGlyphs" fill="#2a2a2a" stroke="#2a2a2a" stroke-width="0.25">MIN 20 F.R.R. DOOR</text>
<text x="1256.2" y="1011.5" font-size="8" text-anchor="start" textLength="132.5" lengthAdjust="spacingAndGlyphs" fill="#2a2a2a" stroke="#2a2a2a" stroke-width="0.25">INTERIOR FLOOR CONSTRUCTION</text>
<line x1="1256.2" y1="1013" x2="1388.7" y2="1013" stroke="#2a2a2a" stroke-width="0.8" stroke-linecap="butt"/>
<text x="1256.2" y="1020.4" font-size="8" text-anchor="start" textLength="48" lengthAdjust="spacingAndGlyphs" fill="#2a2a2a" stroke="#2a2a2a" stroke-width="0.25">OVER SUITE</text>
<line x1="1256.2" y1="1021.9" x2="1304.2" y2="1021.9" stroke="#2a2a2a" stroke-width="0.8" stroke-linecap="butt"/>
<text x="1310.7" y="1020.4" font-size="8" text-anchor="start" textLength="40.6" lengthAdjust="spacingAndGlyphs" fill="#2a2a2a" stroke="#2a2a2a" stroke-width="0.25">(TYPICAL)</text>
<rect x="1256.2" y="1025.3" width="238.1" height="40" fill="none" stroke="#2a2a2a" stroke-width="1.0"/>
<line x1="1256.2" y1="1048.5" x2="1494.3" y2="1048.5" stroke="#2a2a2a" stroke-width="1.0" stroke-linecap="butt"/>
<line x1="1393.6" y1="1025.3" x2="1393.6" y2="1061" stroke="#2a2a2a" stroke-width="1.0" stroke-linecap="butt"/>
<line x1="1448" y1="1025.3" x2="1448" y2="1061" stroke="#2a2a2a" stroke-width="1.0" stroke-linecap="butt"/>
<text x="1266" y="1039.4" font-size="7.5" text-anchor="start" textLength="36" lengthAdjust="spacingAndGlyphs" fill="#2a2a2a" stroke="#2a2a2a" stroke-width="0.25">Description</text>
<text x="1343.2" y="1043.2" font-size="7.5" text-anchor="start" textLength="31" lengthAdjust="spacingAndGlyphs" fill="#2a2a2a" stroke="#2a2a2a" stroke-width="0.25">F%c or g</text>
<text x="1395" y="1031.8" font-size="7.5" text-anchor="start" textLength="53" lengthAdjust="spacingAndGlyphs" fill="#2a2a2a" stroke="#2a2a2a" stroke-width="0.25">Fire Resistance</text>
<text x="1395" y="1039.1" font-size="7.5" text-anchor="start" textLength="22" lengthAdjust="spacingAndGlyphs" fill="#2a2a2a" stroke="#2a2a2a" stroke-width="0.25">Rating</text>
<text x="1448.5" y="1031.8" font-size="7.5" text-anchor="start" textLength="45" lengthAdjust="spacingAndGlyphs" fill="#2a2a2a" stroke="#2a2a2a" stroke-width="0.25">Typical Sound</text>
<text x="1448.5" y="1039.1" font-size="7.5" text-anchor="start" textLength="39" lengthAdjust="spacingAndGlyphs" fill="#2a2a2a" stroke="#2a2a2a" stroke-width="0.25">Transmision</text>
<text x="1448.5" y="1045.6" font-size="7.5" text-anchor="start" textLength="18" lengthAdjust="spacingAndGlyphs" fill="#2a2a2a" stroke="#2a2a2a" stroke-width="0.25">Class</text>
<text x="1262" y="1056" font-size="6" text-anchor="start" fill="#2a2a2a" stroke="#2a2a2a" stroke-width="0.25">-</text>
<text x="1269" y="1056" font-size="5.5" text-anchor="start" textLength="98" lengthAdjust="spacingAndGlyphs" font-weight="bold" fill="#2a2a2a" stroke="#2a2a2a" stroke-width="0.25">SUBFLOOR 15.5mm PLYWOOD, OSB OR 17mm</text>
<text x="1269" y="1061" font-size="5.5" text-anchor="start" textLength="64" lengthAdjust="spacingAndGlyphs" font-weight="bold" fill="#2a2a2a" stroke="#2a2a2a" stroke-width="0.25">TONGUE &amp; GROOVE LUMBER</text>
<text x="1397" y="1055" font-size="5.5" text-anchor="start" textLength="28" lengthAdjust="spacingAndGlyphs" font-weight="bold" fill="#2a2a2a" stroke="#2a2a2a" stroke-width="0.25">c2 - 30 min</text>
<text x="1397" y="1061" font-size="5.5" text-anchor="start" textLength="28" lengthAdjust="spacingAndGlyphs" font-weight="bold" fill="#2a2a2a" stroke="#2a2a2a" stroke-width="0.25">- 45 min with</text>
<text x="1450" y="1055" font-size="5.5" text-anchor="start" textLength="17" lengthAdjust="spacingAndGlyphs" font-weight="bold" fill="#2a2a2a" stroke="#2a2a2a" stroke-width="0.25">48 STC</text>
<ellipse cx="1166" cy="1032.2" rx="16.5" ry="8.5" fill="#fff" stroke="#2a2a2a" stroke-width="1.0"/>
<text x="1166" y="1036.88" font-size="13" text-anchor="middle" textLength="19" lengthAdjust="spacingAndGlyphs" fill="#2a2a2a" stroke="#2a2a2a" stroke-width="0">F5</text>
<line x1="1182.5" y1="1032.5" x2="1256.2" y2="1032.5" stroke="#2a2a2a" stroke-width="1.0" stroke-linecap="butt"/>
<line x1="1166" y1="1040.7" x2="1166" y2="1061" stroke="#2a2a2a" stroke-width="1.0" stroke-linecap="butt"/>
<polyline points="1156.5,1051 1166,1060 1176,1051" fill="none" stroke="#2a2a2a" stroke-width="1.3"/>
<line x1="1119.5" y1="1060.5" x2="1213" y2="1060.5" stroke="#2a2a2a" stroke-width="1.1" stroke-linecap="butt"/>
<line x1="1119.5" y1="1050" x2="1119.5" y2="1061" stroke="#2a2a2a" stroke-width="1.0" stroke-linecap="butt"/>
<line x1="1213" y1="1050" x2="1213" y2="1061" stroke="#2a2a2a" stroke-width="1.0" stroke-linecap="butt"/>
<line x1="186" y1="617" x2="514.75" y2="617" stroke="#2a2a2a" stroke-width="1.0" stroke-linecap="butt"/>
<line x1="188" y1="621" x2="196" y2="613" stroke="#2a2a2a" stroke-width="1.6" stroke-linecap="butt"/>
<line x1="362" y1="621" x2="370" y2="613" stroke="#2a2a2a" stroke-width="1.6" stroke-linecap="butt"/>
<line x1="504.75" y1="621" x2="512.75" y2="613" stroke="#2a2a2a" stroke-width="1.6" stroke-linecap="butt"/>
<text x="278" y="612.5" font-size="9" text-anchor="middle" textLength="22" lengthAdjust="spacingAndGlyphs" fill="#2a2a2a" stroke="#2a2a2a" stroke-width="0.25">10'-6"</text>
<text x="436.5" y="612.5" font-size="9" text-anchor="middle" textLength="18" lengthAdjust="spacingAndGlyphs" fill="#2a2a2a" stroke="#2a2a2a" stroke-width="0.25">8'-6"</text>
</svg></body></html>
